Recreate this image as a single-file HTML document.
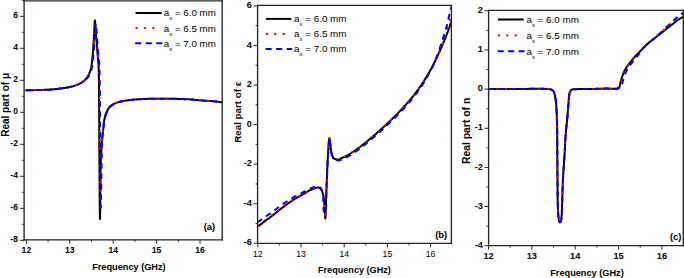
<!DOCTYPE html>
<html><head><meta charset="utf-8"><style>
html,body{margin:0;padding:0;background:#fff;}
body{width:684px;height:278px;overflow:hidden;}
svg{display:block;font-family:"Liberation Sans", sans-serif;}
</style></head><body>
<svg width="684" height="278" viewBox="0 0 684 278">
<rect width="684" height="278" fill="#fff"/>
<clipPath id="clip0"><rect x="24.10" y="0.85" width="198.10" height="238.95"/></clipPath>
<g clip-path="url(#clip0)" fill="none" stroke-linejoin="round">
<path d="M26.20 90.30 L27.36 90.28 L28.53 90.25 L29.70 90.23 L30.88 90.21 L32.06 90.18 L33.24 90.16 L34.41 90.14 L35.56 90.11 L36.71 90.09 L37.83 90.06 L38.93 90.03 L40.00 90.00 L40.89 89.97 L41.76 89.95 L42.61 89.92 L43.45 89.90 L44.28 89.87 L45.10 89.85 L45.92 89.82 L46.73 89.78 L47.54 89.75 L48.35 89.70 L49.17 89.65 L50.00 89.60 L50.84 89.54 L51.70 89.47 L52.56 89.40 L53.43 89.32 L54.30 89.23 L55.16 89.15 L56.02 89.06 L56.86 88.97 L57.68 88.88 L58.48 88.78 L59.26 88.69 L60.00 88.60 L60.56 88.53 L61.10 88.46 L61.64 88.38 L62.16 88.31 L62.67 88.23 L63.17 88.15 L63.66 88.08 L64.15 88.00 L64.62 87.92 L65.09 87.85 L65.55 87.77 L66.00 87.70 L66.36 87.64 L66.72 87.58 L67.07 87.53 L67.42 87.47 L67.76 87.41 L68.09 87.36 L68.42 87.30 L68.75 87.24 L69.07 87.18 L69.38 87.12 L69.69 87.06 L70.00 87.00 L70.26 86.95 L70.50 86.90 L70.73 86.85 L70.96 86.80 L71.18 86.75 L71.41 86.70 L71.64 86.65 L71.87 86.60 L72.11 86.53 L72.36 86.46 L72.62 86.39 L72.90 86.30 L73.38 86.15 L73.90 85.97 L74.46 85.78 L75.05 85.58 L75.66 85.36 L76.28 85.13 L76.90 84.89 L77.52 84.64 L78.13 84.39 L78.72 84.13 L79.28 83.86 L79.80 83.60 L80.23 83.37 L80.65 83.14 L81.07 82.90 L81.47 82.67 L81.86 82.42 L82.25 82.17 L82.63 81.92 L83.00 81.65 L83.36 81.38 L83.71 81.10 L84.06 80.80 L84.40 80.50 L84.74 80.18 L85.06 79.85 L85.38 79.51 L85.70 79.16 L86.00 78.80 L86.30 78.43 L86.58 78.05 L86.86 77.67 L87.14 77.28 L87.40 76.89 L87.65 76.50 L87.90 76.10 L88.14 75.69 L88.37 75.28 L88.58 74.86 L88.79 74.43 L88.99 73.99 L89.19 73.56 L89.37 73.11 L89.55 72.67 L89.72 72.23 L89.89 71.78 L90.05 71.34 L90.20 70.90 L90.34 70.48 L90.48 70.06 L90.60 69.64 L90.72 69.22 L90.84 68.80 L90.94 68.38 L91.05 67.96 L91.15 67.53 L91.24 67.10 L91.33 66.67 L91.42 66.24 L91.50 65.80 L91.58 65.34 L91.66 64.88 L91.72 64.42 L91.78 63.96 L91.84 63.49 L91.89 63.03 L91.94 62.55 L91.99 62.07 L92.04 61.57 L92.09 61.06 L92.14 60.54 L92.20 60.00 L92.28 59.27 L92.35 58.52 L92.43 57.76 L92.50 56.98 L92.58 56.17 L92.66 55.35 L92.73 54.51 L92.81 53.65 L92.88 52.77 L92.95 51.87 L93.03 50.94 L93.10 50.00 L93.20 48.67 L93.29 47.26 L93.39 45.78 L93.49 44.24 L93.58 42.67 L93.67 41.08 L93.77 39.49 L93.86 37.90 L93.95 36.35 L94.03 34.83 L94.12 33.38 L94.20 32.00 L94.26 30.87 L94.32 29.65 L94.38 28.38 L94.44 27.09 L94.49 25.81 L94.55 24.59 L94.60 23.46 L94.66 22.46 L94.71 21.61 L94.77 20.96 L94.84 20.55 L94.90 20.40 L94.97 20.55 L95.04 20.96 L95.11 21.61 L95.18 22.45 L95.25 23.46 L95.33 24.59 L95.40 25.81 L95.48 27.09 L95.56 28.38 L95.64 29.65 L95.72 30.87 L95.80 32.00 L95.91 33.37 L96.02 34.79 L96.13 36.26 L96.24 37.77 L96.36 39.30 L96.48 40.86 L96.60 42.42 L96.72 43.98 L96.84 45.52 L96.96 47.05 L97.08 48.55 L97.20 50.00 L97.31 51.29 L97.43 52.55 L97.54 53.80 L97.66 55.02 L97.78 56.24 L97.90 57.45 L98.02 58.66 L98.13 59.89 L98.23 61.13 L98.33 62.39 L98.42 63.68 L98.50 65.00 L98.58 66.56 L98.64 68.14 L98.70 69.74 L98.74 71.37 L98.78 73.01 L98.81 74.68 L98.84 76.36 L98.86 78.06 L98.88 79.78 L98.90 81.50 L98.93 83.25 L98.95 85.00 L98.98 86.96 L99.00 88.91 L99.02 90.85 L99.04 92.81 L99.06 94.78 L99.07 96.79 L99.08 98.83 L99.10 100.93 L99.11 103.08 L99.12 105.30 L99.14 107.61 L99.15 110.00 L99.17 113.55 L99.19 117.29 L99.21 121.20 L99.23 125.24 L99.24 129.41 L99.26 133.67 L99.28 138.00 L99.30 142.39 L99.32 146.81 L99.34 151.23 L99.37 155.63 L99.40 160.00 L99.44 165.12 L99.48 170.92 L99.52 177.17 L99.57 183.68 L99.62 190.21 L99.67 196.57 L99.72 202.53 L99.77 207.89 L99.83 212.43 L99.88 215.94 L99.94 218.20 L100.00 219.00 L100.05 218.10 L100.10 215.58 L100.15 211.71 L100.19 206.76 L100.24 200.98 L100.29 194.65 L100.34 188.04 L100.41 181.40 L100.48 175.01 L100.57 169.14 L100.68 164.05 L100.80 160.00 L100.87 158.22 L100.95 156.56 L101.03 155.00 L101.11 153.53 L101.20 152.13 L101.29 150.79 L101.38 149.49 L101.48 148.21 L101.58 146.93 L101.68 145.65 L101.79 144.35 L101.90 143.00 L102.01 141.70 L102.12 140.40 L102.25 139.09 L102.37 137.79 L102.50 136.49 L102.63 135.20 L102.76 133.93 L102.89 132.68 L103.02 131.46 L103.15 130.27 L103.28 129.11 L103.40 128.00 L103.49 127.17 L103.57 126.35 L103.64 125.56 L103.71 124.78 L103.78 124.02 L103.86 123.28 L103.94 122.54 L104.02 121.82 L104.12 121.10 L104.23 120.40 L104.36 119.70 L104.50 119.00 L104.65 118.38 L104.80 117.76 L104.97 117.14 L105.14 116.53 L105.33 115.93 L105.52 115.34 L105.72 114.76 L105.92 114.19 L106.14 113.62 L106.35 113.07 L106.57 112.53 L106.80 112.00 L107.00 111.55 L107.19 111.10 L107.39 110.66 L107.58 110.22 L107.79 109.79 L107.99 109.37 L108.21 108.97 L108.44 108.57 L108.68 108.18 L108.94 107.81 L109.21 107.45 L109.50 107.10 L109.81 106.77 L110.14 106.46 L110.49 106.15 L110.85 105.86 L111.23 105.58 L111.62 105.31 L112.01 105.06 L112.41 104.81 L112.81 104.57 L113.21 104.34 L113.61 104.12 L114.00 103.90 L114.36 103.71 L114.72 103.53 L115.08 103.35 L115.45 103.19 L115.81 103.04 L116.18 102.89 L116.55 102.75 L116.92 102.61 L117.31 102.48 L117.69 102.35 L118.09 102.22 L118.50 102.10 L118.98 101.96 L119.48 101.83 L119.98 101.71 L120.49 101.59 L121.02 101.48 L121.55 101.38 L122.08 101.28 L122.62 101.18 L123.16 101.08 L123.71 100.99 L124.26 100.89 L124.80 100.80 L125.38 100.70 L125.97 100.61 L126.55 100.51 L127.15 100.42 L127.74 100.33 L128.34 100.25 L128.95 100.17 L129.55 100.09 L130.16 100.01 L130.77 99.94 L131.38 99.87 L132.00 99.80 L132.65 99.73 L133.30 99.67 L133.95 99.61 L134.60 99.56 L135.26 99.51 L135.92 99.46 L136.58 99.41 L137.25 99.37 L137.93 99.32 L138.61 99.28 L139.30 99.24 L140.00 99.20 L140.79 99.16 L141.58 99.11 L142.37 99.07 L143.18 99.03 L143.98 99.00 L144.80 98.96 L145.63 98.93 L146.48 98.90 L147.33 98.87 L148.20 98.85 L149.09 98.82 L150.00 98.80 L151.15 98.78 L152.34 98.75 L153.56 98.74 L154.81 98.72 L156.09 98.71 L157.38 98.70 L158.67 98.70 L159.97 98.69 L161.25 98.69 L162.53 98.69 L163.78 98.70 L165.00 98.70 L166.12 98.71 L167.22 98.71 L168.32 98.72 L169.40 98.73 L170.49 98.74 L171.56 98.76 L172.63 98.77 L173.71 98.79 L174.78 98.82 L175.85 98.84 L176.92 98.87 L178.00 98.90 L179.09 98.93 L180.18 98.97 L181.29 99.01 L182.40 99.06 L183.51 99.10 L184.61 99.15 L185.71 99.20 L186.79 99.25 L187.86 99.31 L188.90 99.37 L189.91 99.43 L190.90 99.50 L191.69 99.56 L192.45 99.62 L193.20 99.69 L193.93 99.75 L194.65 99.82 L195.36 99.89 L196.07 99.97 L196.77 100.04 L197.47 100.11 L198.17 100.17 L198.88 100.24 L199.60 100.30 L200.32 100.36 L201.04 100.41 L201.75 100.46 L202.47 100.51 L203.19 100.56 L203.90 100.61 L204.62 100.65 L205.34 100.70 L206.05 100.75 L206.77 100.80 L207.48 100.85 L208.20 100.90 L208.92 100.95 L209.65 101.01 L210.39 101.06 L211.13 101.11 L211.87 101.16 L212.61 101.22 L213.34 101.27 L214.07 101.33 L214.78 101.39 L215.47 101.46 L216.15 101.53 L216.80 101.60 L217.32 101.66 L217.82 101.73 L218.31 101.80 L218.79 101.88 L219.26 101.95 L219.72 102.03 L220.19 102.11 L220.64 102.19 L221.10 102.27 L221.56 102.35 L222.03 102.42 L222.50 102.50" stroke="#000" stroke-width="2"/>
<path d="M26.20 90.30 L27.36 90.28 L28.53 90.25 L29.70 90.23 L30.88 90.21 L32.06 90.18 L33.24 90.16 L34.41 90.14 L35.56 90.11 L36.71 90.09 L37.83 90.06 L38.93 90.03 L40.00 90.00 L40.89 89.97 L41.76 89.95 L42.61 89.92 L43.45 89.90 L44.28 89.87 L45.10 89.85 L45.92 89.82 L46.73 89.78 L47.54 89.75 L48.35 89.70 L49.17 89.65 L50.00 89.60 L50.84 89.54 L51.70 89.47 L52.56 89.40 L53.43 89.32 L54.30 89.23 L55.16 89.15 L56.02 89.06 L56.86 88.97 L57.68 88.88 L58.48 88.78 L59.26 88.69 L60.00 88.60 L60.56 88.53 L61.10 88.46 L61.64 88.38 L62.16 88.31 L62.67 88.23 L63.17 88.15 L63.66 88.08 L64.15 88.00 L64.62 87.92 L65.09 87.85 L65.55 87.77 L66.00 87.70 L66.36 87.64 L66.72 87.58 L67.07 87.53 L67.42 87.47 L67.76 87.41 L68.09 87.36 L68.42 87.30 L68.75 87.24 L69.07 87.18 L69.38 87.12 L69.69 87.06 L70.00 87.00 L70.26 86.95 L70.50 86.90 L70.73 86.85 L70.96 86.80 L71.18 86.75 L71.41 86.70 L71.64 86.65 L71.87 86.60 L72.11 86.53 L72.36 86.46 L72.62 86.39 L72.90 86.30 L73.38 86.15 L73.90 85.97 L74.46 85.78 L75.05 85.58 L75.66 85.36 L76.28 85.13 L76.90 84.89 L77.52 84.64 L78.13 84.39 L78.72 84.13 L79.28 83.86 L79.80 83.60 L80.23 83.37 L80.65 83.14 L81.06 82.90 L81.46 82.66 L81.85 82.42 L82.23 82.17 L82.60 81.91 L82.97 81.65 L83.34 81.37 L83.69 81.09 L84.05 80.80 L84.40 80.50 L84.76 80.18 L85.12 79.85 L85.47 79.51 L85.82 79.16 L86.16 78.80 L86.50 78.43 L86.83 78.06 L87.15 77.68 L87.46 77.29 L87.75 76.90 L88.03 76.50 L88.30 76.10 L88.55 75.70 L88.78 75.28 L89.00 74.86 L89.22 74.43 L89.42 74.00 L89.61 73.56 L89.79 73.12 L89.96 72.67 L90.13 72.23 L90.29 71.78 L90.45 71.34 L90.60 70.90 L90.74 70.48 L90.88 70.06 L91.00 69.64 L91.12 69.22 L91.24 68.80 L91.34 68.38 L91.45 67.96 L91.55 67.53 L91.64 67.10 L91.73 66.67 L91.82 66.24 L91.90 65.80 L91.98 65.34 L92.06 64.88 L92.12 64.42 L92.18 63.96 L92.24 63.49 L92.29 63.03 L92.34 62.55 L92.39 62.07 L92.44 61.57 L92.49 61.06 L92.54 60.54 L92.60 60.00 L92.68 59.27 L92.75 58.52 L92.83 57.76 L92.90 56.98 L92.98 56.17 L93.06 55.35 L93.13 54.51 L93.21 53.65 L93.28 52.77 L93.35 51.87 L93.43 50.94 L93.50 50.00 L93.60 48.66 L93.69 47.22 L93.78 45.70 L93.88 44.12 L93.97 42.51 L94.06 40.88 L94.15 39.26 L94.24 37.66 L94.33 36.12 L94.42 34.64 L94.51 33.26 L94.60 32.00 L94.66 31.17 L94.72 30.30 L94.77 29.40 L94.83 28.50 L94.88 27.63 L94.94 26.80 L95.00 26.04 L95.05 25.36 L95.11 24.80 L95.17 24.37 L95.23 24.10 L95.30 24.00 L95.37 24.10 L95.44 24.37 L95.51 24.80 L95.58 25.36 L95.66 26.03 L95.74 26.80 L95.81 27.63 L95.89 28.50 L95.97 29.40 L96.05 30.29 L96.12 31.17 L96.20 32.00 L96.31 33.25 L96.43 34.60 L96.55 36.03 L96.66 37.53 L96.78 39.07 L96.89 40.65 L97.01 42.25 L97.13 43.85 L97.25 45.45 L97.36 47.01 L97.48 48.53 L97.60 50.00 L97.71 51.29 L97.83 52.55 L97.94 53.80 L98.06 55.02 L98.18 56.24 L98.30 57.45 L98.42 58.66 L98.53 59.89 L98.63 61.13 L98.73 62.39 L98.82 63.68 L98.90 65.00 L98.98 66.56 L99.04 68.14 L99.10 69.74 L99.14 71.37 L99.18 73.01 L99.21 74.68 L99.24 76.36 L99.26 78.06 L99.28 79.78 L99.30 81.50 L99.33 83.25 L99.35 85.00 L99.38 86.96 L99.40 88.91 L99.42 90.85 L99.44 92.81 L99.46 94.78 L99.47 96.79 L99.48 98.83 L99.50 100.93 L99.51 103.08 L99.52 105.30 L99.54 107.61 L99.55 110.00 L99.57 113.56 L99.59 117.33 L99.61 121.28 L99.62 125.37 L99.64 129.58 L99.66 133.88 L99.67 138.25 L99.69 142.65 L99.71 147.05 L99.74 151.43 L99.77 155.75 L99.80 160.00 L99.84 164.59 L99.88 169.72 L99.92 175.21 L99.97 180.89 L100.02 186.57 L100.07 192.08 L100.12 197.23 L100.17 201.86 L100.23 205.76 L100.28 208.77 L100.34 210.71 L100.40 211.40 L100.46 210.63 L100.52 208.46 L100.57 205.13 L100.63 200.85 L100.69 195.87 L100.75 190.39 L100.82 184.66 L100.89 178.89 L100.96 173.31 L101.03 168.15 L101.11 163.64 L101.20 160.00 L101.25 158.26 L101.30 156.62 L101.34 155.08 L101.39 153.61 L101.43 152.21 L101.48 150.86 L101.53 149.54 L101.59 148.25 L101.66 146.96 L101.73 145.66 L101.81 144.35 L101.90 143.00 L102.00 141.70 L102.10 140.40 L102.22 139.09 L102.34 137.79 L102.47 136.49 L102.60 135.20 L102.74 133.93 L102.88 132.68 L103.01 131.46 L103.15 130.27 L103.28 129.11 L103.40 128.00 L103.49 127.17 L103.57 126.35 L103.64 125.56 L103.71 124.78 L103.78 124.02 L103.86 123.28 L103.94 122.54 L104.02 121.82 L104.12 121.10 L104.23 120.40 L104.36 119.70 L104.50 119.00 L104.65 118.38 L104.80 117.76 L104.97 117.14 L105.14 116.53 L105.33 115.93 L105.52 115.34 L105.72 114.76 L105.92 114.19 L106.14 113.62 L106.35 113.07 L106.57 112.53 L106.80 112.00 L107.00 111.55 L107.19 111.10 L107.39 110.66 L107.58 110.22 L107.79 109.79 L107.99 109.37 L108.21 108.97 L108.44 108.57 L108.68 108.18 L108.94 107.81 L109.21 107.45 L109.50 107.10 L109.81 106.77 L110.14 106.46 L110.49 106.15 L110.85 105.86 L111.23 105.58 L111.62 105.31 L112.01 105.06 L112.41 104.81 L112.81 104.57 L113.21 104.34 L113.61 104.12 L114.00 103.90 L114.36 103.71 L114.72 103.53 L115.08 103.35 L115.45 103.19 L115.81 103.04 L116.18 102.89 L116.55 102.75 L116.92 102.61 L117.31 102.48 L117.69 102.35 L118.09 102.22 L118.50 102.10 L118.98 101.96 L119.48 101.83 L119.98 101.71 L120.49 101.59 L121.02 101.48 L121.55 101.38 L122.08 101.28 L122.62 101.18 L123.16 101.08 L123.71 100.99 L124.26 100.89 L124.80 100.80 L125.38 100.70 L125.97 100.61 L126.55 100.51 L127.15 100.42 L127.74 100.33 L128.34 100.25 L128.95 100.17 L129.55 100.09 L130.16 100.01 L130.77 99.94 L131.38 99.87 L132.00 99.80 L132.65 99.73 L133.30 99.67 L133.95 99.61 L134.60 99.56 L135.26 99.51 L135.92 99.46 L136.58 99.41 L137.25 99.37 L137.93 99.32 L138.61 99.28 L139.30 99.24 L140.00 99.20 L140.79 99.16 L141.58 99.11 L142.37 99.07 L143.18 99.03 L143.98 99.00 L144.80 98.96 L145.63 98.93 L146.48 98.90 L147.33 98.87 L148.20 98.85 L149.09 98.82 L150.00 98.80 L151.15 98.78 L152.34 98.75 L153.56 98.74 L154.81 98.72 L156.09 98.71 L157.38 98.70 L158.67 98.70 L159.97 98.69 L161.25 98.69 L162.53 98.69 L163.78 98.70 L165.00 98.70 L166.12 98.71 L167.22 98.71 L168.32 98.72 L169.40 98.73 L170.49 98.74 L171.56 98.76 L172.63 98.77 L173.71 98.79 L174.78 98.82 L175.85 98.84 L176.92 98.87 L178.00 98.90 L179.09 98.93 L180.18 98.97 L181.29 99.01 L182.40 99.06 L183.51 99.10 L184.61 99.15 L185.71 99.20 L186.79 99.25 L187.86 99.31 L188.90 99.37 L189.91 99.43 L190.90 99.50 L191.69 99.56 L192.45 99.62 L193.20 99.69 L193.93 99.75 L194.65 99.82 L195.36 99.89 L196.07 99.97 L196.77 100.04 L197.47 100.11 L198.17 100.17 L198.88 100.24 L199.60 100.30 L200.32 100.36 L201.04 100.41 L201.75 100.46 L202.47 100.51 L203.19 100.56 L203.90 100.61 L204.62 100.65 L205.34 100.70 L206.05 100.75 L206.77 100.80 L207.48 100.85 L208.20 100.90 L208.92 100.95 L209.65 101.01 L210.39 101.06 L211.13 101.11 L211.87 101.16 L212.61 101.22 L213.34 101.27 L214.07 101.33 L214.78 101.39 L215.47 101.46 L216.15 101.53 L216.80 101.60 L217.32 101.66 L217.82 101.73 L218.31 101.80 L218.79 101.88 L219.26 101.95 L219.72 102.03 L220.19 102.11 L220.64 102.19 L221.10 102.27 L221.56 102.35 L222.03 102.42 L222.50 102.50" stroke="#f00" stroke-width="2.3" stroke-dasharray="0 8.4" stroke-linecap="round"/>
<path d="M26.20 90.30 L27.36 90.28 L28.53 90.25 L29.70 90.23 L30.88 90.21 L32.06 90.18 L33.24 90.16 L34.41 90.14 L35.56 90.11 L36.71 90.09 L37.83 90.06 L38.93 90.03 L40.00 90.00 L40.89 89.97 L41.76 89.95 L42.61 89.92 L43.45 89.90 L44.28 89.87 L45.10 89.85 L45.92 89.82 L46.73 89.78 L47.54 89.75 L48.35 89.70 L49.17 89.65 L50.00 89.60 L50.84 89.54 L51.70 89.47 L52.56 89.40 L53.43 89.32 L54.30 89.23 L55.16 89.15 L56.02 89.06 L56.86 88.97 L57.68 88.88 L58.48 88.78 L59.26 88.69 L60.00 88.60 L60.56 88.53 L61.10 88.46 L61.64 88.38 L62.16 88.31 L62.67 88.23 L63.17 88.15 L63.66 88.08 L64.15 88.00 L64.62 87.92 L65.09 87.85 L65.55 87.77 L66.00 87.70 L66.36 87.64 L66.72 87.58 L67.07 87.53 L67.42 87.47 L67.76 87.41 L68.09 87.36 L68.42 87.30 L68.75 87.24 L69.07 87.18 L69.38 87.12 L69.69 87.06 L70.00 87.00 L70.26 86.95 L70.50 86.90 L70.73 86.85 L70.96 86.80 L71.18 86.75 L71.41 86.70 L71.64 86.65 L71.87 86.60 L72.11 86.53 L72.36 86.46 L72.62 86.39 L72.90 86.30 L73.38 86.15 L73.90 85.97 L74.46 85.78 L75.05 85.58 L75.66 85.36 L76.28 85.13 L76.90 84.89 L77.52 84.64 L78.13 84.39 L78.72 84.13 L79.28 83.86 L79.80 83.60 L80.23 83.37 L80.65 83.14 L81.05 82.90 L81.45 82.66 L81.83 82.41 L82.21 82.16 L82.58 81.90 L82.95 81.64 L83.32 81.37 L83.68 81.09 L84.04 80.80 L84.40 80.50 L84.78 80.18 L85.17 79.85 L85.56 79.51 L85.95 79.16 L86.33 78.80 L86.71 78.44 L87.07 78.07 L87.43 77.69 L87.77 77.30 L88.10 76.91 L88.41 76.51 L88.70 76.10 L88.96 75.70 L89.20 75.29 L89.42 74.87 L89.64 74.44 L89.83 74.01 L90.02 73.57 L90.20 73.12 L90.37 72.68 L90.54 72.23 L90.69 71.78 L90.85 71.34 L91.00 70.90 L91.14 70.48 L91.28 70.06 L91.40 69.64 L91.52 69.22 L91.64 68.80 L91.74 68.38 L91.85 67.96 L91.95 67.53 L92.04 67.10 L92.13 66.67 L92.22 66.24 L92.30 65.80 L92.38 65.34 L92.46 64.88 L92.52 64.42 L92.58 63.96 L92.64 63.49 L92.69 63.03 L92.74 62.55 L92.79 62.07 L92.84 61.57 L92.89 61.06 L92.94 60.54 L93.00 60.00 L93.08 59.27 L93.15 58.52 L93.23 57.76 L93.30 56.98 L93.38 56.17 L93.46 55.35 L93.53 54.51 L93.61 53.65 L93.68 52.77 L93.75 51.87 L93.83 50.94 L93.90 50.00 L94.00 48.66 L94.09 47.23 L94.19 45.71 L94.28 44.13 L94.37 42.52 L94.46 40.90 L94.55 39.28 L94.64 37.68 L94.73 36.14 L94.82 34.66 L94.91 33.28 L95.00 32.00 L95.06 31.14 L95.12 30.24 L95.17 29.31 L95.23 28.38 L95.28 27.48 L95.34 26.61 L95.40 25.82 L95.45 25.12 L95.51 24.53 L95.57 24.09 L95.63 23.80 L95.70 23.70 L95.77 23.80 L95.84 24.08 L95.91 24.53 L95.98 25.12 L96.06 25.82 L96.13 26.61 L96.21 27.47 L96.29 28.38 L96.37 29.31 L96.45 30.24 L96.52 31.14 L96.60 32.00 L96.71 33.26 L96.83 34.62 L96.94 36.05 L97.06 37.55 L97.18 39.09 L97.29 40.67 L97.41 42.27 L97.53 43.87 L97.65 45.45 L97.76 47.02 L97.88 48.54 L98.00 50.00 L98.11 51.29 L98.23 52.55 L98.34 53.80 L98.46 55.02 L98.58 56.24 L98.70 57.45 L98.82 58.66 L98.93 59.89 L99.03 61.13 L99.13 62.39 L99.22 63.68 L99.30 65.00 L99.38 66.56 L99.44 68.14 L99.50 69.74 L99.54 71.37 L99.58 73.01 L99.61 74.68 L99.64 76.36 L99.66 78.06 L99.68 79.78 L99.70 81.50 L99.73 83.25 L99.75 85.00 L99.78 86.96 L99.80 88.91 L99.82 90.85 L99.84 92.81 L99.86 94.78 L99.87 96.79 L99.88 98.83 L99.90 100.93 L99.91 103.08 L99.92 105.30 L99.94 107.61 L99.95 110.00 L99.97 113.57 L99.99 117.35 L100.01 121.32 L100.02 125.44 L100.04 129.68 L100.05 134.00 L100.07 138.39 L100.09 142.79 L100.11 147.18 L100.14 151.54 L100.17 155.82 L100.20 160.00 L100.24 164.31 L100.28 169.10 L100.32 174.21 L100.37 179.48 L100.41 184.74 L100.47 189.82 L100.52 194.57 L100.57 198.83 L100.63 202.42 L100.68 205.19 L100.74 206.97 L100.80 207.60 L100.86 206.89 L100.93 204.90 L100.99 201.83 L101.07 197.90 L101.14 193.30 L101.21 188.25 L101.28 182.95 L101.35 177.62 L101.42 172.45 L101.49 167.65 L101.55 163.43 L101.60 160.00 L101.63 158.28 L101.64 156.66 L101.65 155.12 L101.66 153.66 L101.67 152.25 L101.68 150.90 L101.69 149.57 L101.71 148.27 L101.73 146.97 L101.77 145.67 L101.83 144.35 L101.90 143.00 L101.98 141.70 L102.08 140.40 L102.19 139.09 L102.32 137.79 L102.45 136.49 L102.58 135.20 L102.72 133.93 L102.86 132.68 L103.00 131.46 L103.14 130.27 L103.27 129.11 L103.40 128.00 L103.49 127.17 L103.57 126.35 L103.64 125.56 L103.71 124.78 L103.78 124.02 L103.86 123.28 L103.94 122.54 L104.02 121.82 L104.12 121.10 L104.23 120.40 L104.36 119.70 L104.50 119.00 L104.65 118.38 L104.80 117.76 L104.97 117.14 L105.14 116.53 L105.33 115.93 L105.52 115.34 L105.72 114.76 L105.92 114.19 L106.14 113.62 L106.35 113.07 L106.57 112.53 L106.80 112.00 L107.00 111.55 L107.19 111.10 L107.39 110.66 L107.58 110.22 L107.79 109.79 L107.99 109.37 L108.21 108.97 L108.44 108.57 L108.68 108.18 L108.94 107.81 L109.21 107.45 L109.50 107.10 L109.81 106.77 L110.14 106.46 L110.49 106.15 L110.85 105.86 L111.23 105.58 L111.62 105.31 L112.01 105.06 L112.41 104.81 L112.81 104.57 L113.21 104.34 L113.61 104.12 L114.00 103.90 L114.36 103.71 L114.72 103.53 L115.08 103.35 L115.45 103.19 L115.81 103.04 L116.18 102.89 L116.55 102.75 L116.92 102.61 L117.31 102.48 L117.69 102.35 L118.09 102.22 L118.50 102.10 L118.98 101.96 L119.48 101.83 L119.98 101.71 L120.49 101.59 L121.02 101.48 L121.55 101.38 L122.08 101.28 L122.62 101.18 L123.16 101.08 L123.71 100.99 L124.26 100.89 L124.80 100.80 L125.38 100.70 L125.97 100.61 L126.55 100.51 L127.15 100.42 L127.74 100.33 L128.34 100.25 L128.95 100.17 L129.55 100.09 L130.16 100.01 L130.77 99.94 L131.38 99.87 L132.00 99.80 L132.65 99.73 L133.30 99.67 L133.95 99.61 L134.60 99.56 L135.26 99.51 L135.92 99.46 L136.58 99.41 L137.25 99.37 L137.93 99.32 L138.61 99.28 L139.30 99.24 L140.00 99.20 L140.79 99.16 L141.58 99.11 L142.37 99.07 L143.18 99.03 L143.98 99.00 L144.80 98.96 L145.63 98.93 L146.48 98.90 L147.33 98.87 L148.20 98.85 L149.09 98.82 L150.00 98.80 L151.15 98.78 L152.34 98.75 L153.56 98.74 L154.81 98.72 L156.09 98.71 L157.38 98.70 L158.67 98.70 L159.97 98.69 L161.25 98.69 L162.53 98.69 L163.78 98.70 L165.00 98.70 L166.12 98.71 L167.22 98.71 L168.32 98.72 L169.40 98.73 L170.49 98.74 L171.56 98.76 L172.63 98.77 L173.71 98.79 L174.78 98.82 L175.85 98.84 L176.92 98.87 L178.00 98.90 L179.09 98.93 L180.18 98.97 L181.29 99.01 L182.40 99.06 L183.51 99.10 L184.61 99.15 L185.71 99.20 L186.79 99.25 L187.86 99.31 L188.90 99.37 L189.91 99.43 L190.90 99.50 L191.69 99.56 L192.45 99.62 L193.20 99.69 L193.93 99.75 L194.65 99.82 L195.36 99.89 L196.07 99.97 L196.77 100.04 L197.47 100.11 L198.17 100.17 L198.88 100.24 L199.60 100.30 L200.32 100.36 L201.04 100.41 L201.75 100.46 L202.47 100.51 L203.19 100.56 L203.90 100.61 L204.62 100.65 L205.34 100.70 L206.05 100.75 L206.77 100.80 L207.48 100.85 L208.20 100.90 L208.92 100.95 L209.65 101.01 L210.39 101.06 L211.13 101.11 L211.87 101.16 L212.61 101.22 L213.34 101.27 L214.07 101.33 L214.78 101.39 L215.47 101.46 L216.15 101.53 L216.80 101.60 L217.32 101.66 L217.82 101.73 L218.31 101.80 L218.79 101.88 L219.26 101.95 L219.72 102.03 L220.19 102.11 L220.64 102.19 L221.10 102.27 L221.56 102.35 L222.03 102.42 L222.50 102.50" stroke="#00f" stroke-width="2" stroke-dasharray="4 6.4" stroke-linecap="round"/>
</g>
<line x1="23.50" y1="0.85" x2="222.80" y2="0.85" stroke="#262626" stroke-width="1.35"/>
<line x1="222.20" y1="0.25" x2="222.20" y2="240.40" stroke="#262626" stroke-width="1.35"/>
<line x1="23.50" y1="239.80" x2="222.80" y2="239.80" stroke="#262626" stroke-width="1.35"/>
<line x1="24.10" y1="0.25" x2="24.10" y2="240.40" stroke="#262626" stroke-width="1.35"/>
<line x1="20.10" y1="240.30" x2="24.10" y2="240.30" stroke="#262626" stroke-width="1.00"/>
<text x="18.00" y="242.30" font-size="8.60" font-weight="bold" text-anchor="end">-8</text>
<line x1="20.10" y1="208.30" x2="24.10" y2="208.30" stroke="#262626" stroke-width="1.00"/>
<text x="18.00" y="210.30" font-size="8.60" font-weight="bold" text-anchor="end">-6</text>
<line x1="20.10" y1="176.30" x2="24.10" y2="176.30" stroke="#262626" stroke-width="1.00"/>
<text x="18.00" y="178.30" font-size="8.60" font-weight="bold" text-anchor="end">-4</text>
<line x1="20.10" y1="144.30" x2="24.10" y2="144.30" stroke="#262626" stroke-width="1.00"/>
<text x="18.00" y="146.30" font-size="8.60" font-weight="bold" text-anchor="end">-2</text>
<line x1="20.10" y1="112.30" x2="24.10" y2="112.30" stroke="#262626" stroke-width="1.00"/>
<text x="18.00" y="114.30" font-size="8.60" font-weight="bold" text-anchor="end">0</text>
<line x1="20.10" y1="80.30" x2="24.10" y2="80.30" stroke="#262626" stroke-width="1.00"/>
<text x="18.00" y="82.30" font-size="8.60" font-weight="bold" text-anchor="end">2</text>
<line x1="20.10" y1="48.30" x2="24.10" y2="48.30" stroke="#262626" stroke-width="1.00"/>
<text x="18.00" y="50.30" font-size="8.60" font-weight="bold" text-anchor="end">4</text>
<line x1="20.10" y1="16.30" x2="24.10" y2="16.30" stroke="#262626" stroke-width="1.00"/>
<text x="18.00" y="18.30" font-size="8.60" font-weight="bold" text-anchor="end">6</text>
<line x1="22.10" y1="224.30" x2="24.10" y2="224.30" stroke="#262626" stroke-width="1.00"/>
<line x1="22.10" y1="192.30" x2="24.10" y2="192.30" stroke="#262626" stroke-width="1.00"/>
<line x1="22.10" y1="160.30" x2="24.10" y2="160.30" stroke="#262626" stroke-width="1.00"/>
<line x1="22.10" y1="128.30" x2="24.10" y2="128.30" stroke="#262626" stroke-width="1.00"/>
<line x1="22.10" y1="96.30" x2="24.10" y2="96.30" stroke="#262626" stroke-width="1.00"/>
<line x1="22.10" y1="64.30" x2="24.10" y2="64.30" stroke="#262626" stroke-width="1.00"/>
<line x1="22.10" y1="32.30" x2="24.10" y2="32.30" stroke="#262626" stroke-width="1.00"/>
<line x1="22.10" y1="0.30" x2="24.10" y2="0.30" stroke="#262626" stroke-width="1.00"/>
<line x1="26.40" y1="239.80" x2="26.40" y2="243.80" stroke="#262626" stroke-width="1.00"/>
<text x="26.40" y="252.80" font-size="8.60" font-weight="bold" text-anchor="middle">12</text>
<line x1="69.80" y1="239.80" x2="69.80" y2="243.80" stroke="#262626" stroke-width="1.00"/>
<text x="69.80" y="252.80" font-size="8.60" font-weight="bold" text-anchor="middle">13</text>
<line x1="113.20" y1="239.80" x2="113.20" y2="243.80" stroke="#262626" stroke-width="1.00"/>
<text x="113.20" y="252.80" font-size="8.60" font-weight="bold" text-anchor="middle">14</text>
<line x1="156.60" y1="239.80" x2="156.60" y2="243.80" stroke="#262626" stroke-width="1.00"/>
<text x="156.60" y="252.80" font-size="8.60" font-weight="bold" text-anchor="middle">15</text>
<line x1="200.00" y1="239.80" x2="200.00" y2="243.80" stroke="#262626" stroke-width="1.00"/>
<text x="200.00" y="252.80" font-size="8.60" font-weight="bold" text-anchor="middle">16</text>
<line x1="48.10" y1="239.80" x2="48.10" y2="241.80" stroke="#262626" stroke-width="1.00"/>
<line x1="91.50" y1="239.80" x2="91.50" y2="241.80" stroke="#262626" stroke-width="1.00"/>
<line x1="134.90" y1="239.80" x2="134.90" y2="241.80" stroke="#262626" stroke-width="1.00"/>
<line x1="178.30" y1="239.80" x2="178.30" y2="241.80" stroke="#262626" stroke-width="1.00"/>
<line x1="135.50" y1="13.00" x2="161.80" y2="13.00" stroke="#000" stroke-width="2"/>
<line x1="136.50" y1="28.10" x2="154.50" y2="28.10" stroke="#f00" stroke-width="2.4" stroke-dasharray="0 8.4" stroke-linecap="round"/>
<line x1="136.00" y1="43.20" x2="161.80" y2="43.20" stroke="#00f" stroke-width="2" stroke-dasharray="4.5 6" stroke-linecap="round"/>
<text x="163.80" y="16.40" font-size="9.75">a<tspan font-size="6" dy="4">x</tspan><tspan dy="-4"> = 6.0 mm</tspan></text>
<text x="163.80" y="31.50" font-size="9.75">a<tspan font-size="6" dy="4">x</tspan><tspan dy="-4"> = 6.5 mm</tspan></text>
<text x="163.80" y="46.60" font-size="9.75">a<tspan font-size="6" dy="4">x</tspan><tspan dy="-4"> = 7.0 mm</tspan></text>
<text x="128.90" y="269.90" font-size="9.20" font-weight="bold" text-anchor="middle">Frequency (GHz)</text>
<text x="8.60" y="104.90" font-size="10.00" font-weight="bold" text-anchor="middle" transform="rotate(-90 8.60 104.90)">Real part of μ</text>
<text x="215.20" y="229.50" font-size="9.40" font-weight="bold" text-anchor="end">(a)</text>
<clipPath id="clip57"><rect x="257.60" y="5.40" width="193.80" height="237.90"/></clipPath>
<g clip-path="url(#clip57)" fill="none" stroke-linejoin="round">
<path d="M258.10 226.40 L258.68 225.95 L259.27 225.50 L259.85 225.04 L260.44 224.59 L261.03 224.13 L261.61 223.68 L262.20 223.22 L262.78 222.77 L263.36 222.32 L263.95 221.88 L264.52 221.44 L265.10 221.00 L265.65 220.59 L266.19 220.19 L266.73 219.79 L267.27 219.40 L267.80 219.01 L268.34 218.62 L268.88 218.23 L269.41 217.84 L269.95 217.44 L270.50 217.03 L271.05 216.62 L271.60 216.20 L272.21 215.73 L272.83 215.24 L273.45 214.75 L274.07 214.24 L274.70 213.73 L275.33 213.22 L275.97 212.71 L276.60 212.20 L277.23 211.69 L277.86 211.18 L278.48 210.69 L279.10 210.20 L279.69 209.74 L280.27 209.29 L280.85 208.84 L281.43 208.40 L282.01 207.95 L282.58 207.51 L283.16 207.08 L283.74 206.64 L284.32 206.20 L284.91 205.77 L285.50 205.33 L286.10 204.90 L286.72 204.45 L287.35 204.00 L287.97 203.55 L288.60 203.11 L289.23 202.66 L289.87 202.21 L290.51 201.77 L291.16 201.33 L291.81 200.89 L292.47 200.46 L293.13 200.03 L293.80 199.60 L294.51 199.16 L295.24 198.72 L295.98 198.28 L296.73 197.85 L297.49 197.43 L298.25 197.00 L299.00 196.58 L299.76 196.16 L300.51 195.74 L301.25 195.33 L301.98 194.91 L302.70 194.50 L303.35 194.12 L304.01 193.72 L304.66 193.33 L305.31 192.93 L305.96 192.53 L306.60 192.14 L307.23 191.76 L307.85 191.39 L308.46 191.03 L309.06 190.70 L309.64 190.39 L310.20 190.10 L310.61 189.90 L311.01 189.72 L311.41 189.54 L311.79 189.37 L312.18 189.21 L312.55 189.06 L312.92 188.92 L313.29 188.79 L313.64 188.66 L314.00 188.53 L314.35 188.41 L314.70 188.30 L314.98 188.20 L315.27 188.11 L315.55 188.01 L315.82 187.91 L316.09 187.81 L316.36 187.73 L316.63 187.65 L316.89 187.59 L317.15 187.53 L317.40 187.50 L317.65 187.49 L317.90 187.50 L318.12 187.53 L318.33 187.56 L318.54 187.61 L318.75 187.67 L318.96 187.75 L319.16 187.83 L319.36 187.93 L319.56 188.04 L319.75 188.16 L319.94 188.29 L320.12 188.44 L320.30 188.60 L320.54 188.84 L320.77 189.12 L321.00 189.42 L321.22 189.75 L321.43 190.10 L321.63 190.48 L321.83 190.87 L322.02 191.27 L322.20 191.69 L322.38 192.12 L322.54 192.56 L322.70 193.00 L322.89 193.60 L323.07 194.23 L323.22 194.88 L323.36 195.55 L323.49 196.25 L323.61 196.96 L323.71 197.70 L323.81 198.46 L323.91 199.24 L324.01 200.04 L324.10 200.86 L324.20 201.70 L324.33 203.01 L324.45 204.57 L324.56 206.30 L324.66 208.13 L324.75 210.01 L324.84 211.85 L324.92 213.60 L324.99 215.19 L325.07 216.53 L325.14 217.58 L325.22 218.26 L325.30 218.50 L325.40 218.15 L325.49 217.18 L325.58 215.67 L325.67 213.72 L325.76 211.43 L325.84 208.89 L325.92 206.20 L326.00 203.45 L326.08 200.75 L326.15 198.17 L326.23 195.82 L326.30 193.80 L326.36 192.37 L326.41 191.00 L326.46 189.67 L326.50 188.38 L326.55 187.12 L326.59 185.86 L326.64 184.61 L326.69 183.36 L326.73 182.08 L326.79 180.76 L326.84 179.41 L326.90 178.00 L326.98 176.22 L327.05 174.37 L327.13 172.47 L327.21 170.52 L327.30 168.53 L327.39 166.54 L327.48 164.54 L327.57 162.55 L327.67 160.59 L327.78 158.67 L327.89 156.80 L328.00 155.00 L328.10 153.41 L328.21 151.68 L328.31 149.85 L328.42 148.00 L328.54 146.16 L328.65 144.40 L328.77 142.76 L328.90 141.30 L329.02 140.07 L329.14 139.12 L329.27 138.52 L329.40 138.30 L329.49 138.42 L329.59 138.75 L329.69 139.27 L329.78 139.94 L329.88 140.74 L329.98 141.62 L330.08 142.56 L330.18 143.52 L330.29 144.48 L330.39 145.40 L330.49 146.25 L330.60 147.00 L330.69 147.62 L330.78 148.24 L330.87 148.86 L330.96 149.47 L331.05 150.09 L331.15 150.69 L331.24 151.28 L331.34 151.86 L331.44 152.43 L331.56 152.97 L331.67 153.50 L331.80 154.00 L331.90 154.37 L331.99 154.73 L332.08 155.09 L332.18 155.45 L332.27 155.79 L332.38 156.12 L332.48 156.44 L332.60 156.75 L332.73 157.04 L332.87 157.31 L333.03 157.57 L333.20 157.80 L333.35 157.97 L333.52 158.13 L333.69 158.28 L333.87 158.42 L334.06 158.54 L334.25 158.66 L334.45 158.76 L334.66 158.86 L334.86 158.96 L335.07 159.04 L335.29 159.12 L335.50 159.20 L335.73 159.28 L335.97 159.35 L336.21 159.42 L336.45 159.48 L336.70 159.54 L336.96 159.58 L337.21 159.62 L337.47 159.64 L337.73 159.65 L337.99 159.65 L338.25 159.63 L338.50 159.60 L338.79 159.54 L339.07 159.45 L339.36 159.34 L339.65 159.21 L339.94 159.06 L340.23 158.91 L340.52 158.74 L340.81 158.57 L341.11 158.40 L341.40 158.23 L341.70 158.07 L342.00 157.92 L342.32 157.77 L342.65 157.61 L342.98 157.46 L343.32 157.31 L343.65 157.16 L343.99 157.01 L344.32 156.85 L344.66 156.70 L345.00 156.54 L345.33 156.38 L345.67 156.21 L346.00 156.05 L346.34 155.87 L346.67 155.69 L347.01 155.51 L347.34 155.33 L347.68 155.15 L348.01 154.96 L348.34 154.77 L348.67 154.58 L349.01 154.39 L349.34 154.19 L349.67 154.00 L350.00 153.80 L350.34 153.60 L350.67 153.39 L351.01 153.18 L351.34 152.97 L351.67 152.76 L352.01 152.55 L352.34 152.34 L352.67 152.12 L353.01 151.90 L353.34 151.68 L353.67 151.46 L354.00 151.24 L354.34 151.01 L354.67 150.79 L355.01 150.56 L355.34 150.33 L355.67 150.09 L356.01 149.86 L356.34 149.62 L356.67 149.39 L357.00 149.15 L357.34 148.91 L357.67 148.67 L358.00 148.43 L358.34 148.19 L358.67 147.94 L359.00 147.69 L359.34 147.44 L359.67 147.19 L360.01 146.94 L360.34 146.69 L360.67 146.44 L361.00 146.18 L361.34 145.93 L361.67 145.67 L362.00 145.41 L362.33 145.16 L362.67 144.89 L363.00 144.63 L363.34 144.37 L363.67 144.10 L364.00 143.84 L364.34 143.57 L364.67 143.31 L365.00 143.04 L365.34 142.77 L365.67 142.50 L366.00 142.24 L366.33 141.96 L366.67 141.69 L367.00 141.42 L367.34 141.14 L367.67 140.87 L368.00 140.59 L368.34 140.32 L368.67 140.04 L369.00 139.76 L369.34 139.48 L369.67 139.20 L370.00 138.92 L370.33 138.64 L370.67 138.36 L371.00 138.08 L371.34 137.79 L371.67 137.51 L372.00 137.22 L372.34 136.94 L372.67 136.65 L373.00 136.37 L373.33 136.08 L373.67 135.79 L374.00 135.51 L374.33 135.22 L374.67 134.93 L375.00 134.63 L375.34 134.34 L375.67 134.05 L376.00 133.76 L376.34 133.47 L376.67 133.17 L377.00 132.88 L377.33 132.59 L377.67 132.29 L378.00 132.00 L378.33 131.70 L378.67 131.40 L379.00 131.10 L379.34 130.81 L379.67 130.51 L380.00 130.21 L380.34 129.91 L380.67 129.61 L381.00 129.31 L381.33 129.01 L381.67 128.71 L382.00 128.40 L382.33 128.10 L382.67 127.80 L383.00 127.49 L383.34 127.19 L383.67 126.88 L384.00 126.57 L384.34 126.27 L384.67 125.96 L385.00 125.65 L385.33 125.35 L385.67 125.04 L386.00 124.73 L386.33 124.42 L386.67 124.11 L387.00 123.79 L387.34 123.48 L387.67 123.17 L388.00 122.86 L388.34 122.54 L388.67 122.23 L389.00 121.91 L389.34 121.60 L389.67 121.28 L390.00 120.96 L390.33 120.65 L390.67 120.33 L391.00 120.00 L391.34 119.68 L391.67 119.36 L392.00 119.04 L392.34 118.72 L392.67 118.39 L393.00 118.07 L393.34 117.75 L393.67 117.42 L394.00 117.09 L394.33 116.76 L394.67 116.43 L395.00 116.10 L395.34 115.77 L395.67 115.44 L396.00 115.11 L396.34 114.77 L396.67 114.44 L397.00 114.10 L397.34 113.77 L397.67 113.43 L398.00 113.09 L398.33 112.75 L398.67 112.41 L399.00 112.06 L399.34 111.72 L399.67 111.37 L400.01 111.03 L400.34 110.68 L400.67 110.33 L401.00 109.98 L401.34 109.63 L401.67 109.28 L402.00 108.93 L402.34 108.57 L402.67 108.21 L403.01 107.85 L403.34 107.49 L403.67 107.13 L404.01 106.77 L404.34 106.40 L404.67 106.04 L405.01 105.67 L405.34 105.31 L405.67 104.94 L406.00 104.57 L406.34 104.19 L406.67 103.81 L407.01 103.43 L407.34 103.05 L407.67 102.67 L408.01 102.28 L408.34 101.90 L408.67 101.51 L409.01 101.12 L409.34 100.74 L409.67 100.34 L410.00 99.95 L410.34 99.55 L410.67 99.15 L411.01 98.74 L411.34 98.34 L411.68 97.93 L412.01 97.52 L412.34 97.11 L412.68 96.70 L413.01 96.28 L413.34 95.87 L413.67 95.45 L414.00 95.03 L414.34 94.60 L414.67 94.17 L415.01 93.73 L415.34 93.30 L415.68 92.86 L416.01 92.42 L416.35 91.98 L416.68 91.54 L417.01 91.09 L417.34 90.64 L417.67 90.19 L418.00 89.74 L418.34 89.28 L418.67 88.81 L419.01 88.34 L419.35 87.87 L419.68 87.39 L420.01 86.91 L420.35 86.44 L420.68 85.96 L421.01 85.47 L421.34 84.99 L421.67 84.50 L422.00 84.01 L422.34 83.50 L422.68 82.99 L423.01 82.48 L423.35 81.96 L423.68 81.45 L424.02 80.93 L424.35 80.40 L424.68 79.88 L425.01 79.35 L425.34 78.82 L425.67 78.29 L426.00 77.75 L426.34 77.20 L426.68 76.64 L427.01 76.07 L427.35 75.51 L427.68 74.94 L428.02 74.37 L428.35 73.80 L428.68 73.22 L429.01 72.64 L429.34 72.06 L429.67 71.48 L430.00 70.89 L430.34 70.27 L430.68 69.66 L431.01 69.04 L431.35 68.41 L431.69 67.79 L432.02 67.16 L432.35 66.53 L432.68 65.89 L433.01 65.25 L433.34 64.61 L433.67 63.96 L434.00 63.31 L434.34 62.63 L434.68 61.95 L435.01 61.26 L435.35 60.57 L435.68 59.87 L436.02 59.17 L436.35 58.47 L436.68 57.77 L437.01 57.06 L437.34 56.35 L437.67 55.64 L438.00 54.93 L438.34 54.20 L438.67 53.46 L439.01 52.73 L439.35 51.99 L439.68 51.25 L440.01 50.51 L440.35 49.76 L440.68 49.01 L441.01 48.26 L441.34 47.51 L441.67 46.76 L442.00 46.00 L442.34 45.21 L442.68 44.43 L443.01 43.64 L443.35 42.85 L443.69 42.06 L444.02 41.27 L444.35 40.47 L444.69 39.66 L445.02 38.86 L445.35 38.04 L445.67 37.23 L446.00 36.40 L446.35 35.52 L446.70 34.60 L447.06 33.66 L447.42 32.70 L447.78 31.74 L448.13 30.79 L448.48 29.84 L448.81 28.92 L449.14 28.03 L449.44 27.18 L449.73 26.38 L450.00 25.63 L450.16 25.18 L450.31 24.75 L450.46 24.33 L450.59 23.94 L450.72 23.56 L450.85 23.18 L450.97 22.82 L451.10 22.45 L451.22 22.09 L451.34 21.72 L451.47 21.35 L451.60 20.97" stroke="#000" stroke-width="2"/>
<path d="M258.10 225.40 L258.68 224.96 L259.27 224.52 L259.85 224.07 L260.44 223.63 L261.03 223.18 L261.61 222.74 L262.20 222.29 L262.78 221.85 L263.36 221.41 L263.95 220.98 L264.52 220.55 L265.10 220.12 L265.65 219.72 L266.19 219.32 L266.73 218.94 L267.27 218.55 L267.80 218.17 L268.34 217.79 L268.88 217.41 L269.41 217.03 L269.95 216.64 L270.50 216.24 L271.05 215.84 L271.60 215.43 L272.21 214.96 L272.83 214.49 L273.45 214.00 L274.07 213.51 L274.70 213.01 L275.33 212.51 L275.97 212.01 L276.60 211.50 L277.23 211.01 L277.86 210.51 L278.48 210.03 L279.10 209.55 L279.69 209.10 L280.27 208.66 L280.85 208.22 L281.43 207.79 L282.01 207.35 L282.58 206.92 L283.16 206.49 L283.74 206.07 L284.32 205.64 L284.91 205.22 L285.50 204.79 L286.10 204.37 L286.72 203.93 L287.35 203.49 L287.97 203.05 L288.60 202.61 L289.23 202.18 L289.87 201.74 L290.51 201.31 L291.16 200.88 L291.81 200.45 L292.47 200.03 L293.13 199.61 L293.80 199.20 L294.51 198.77 L295.24 198.34 L295.98 197.92 L296.73 197.50 L297.49 197.08 L298.25 196.67 L299.00 196.26 L299.76 195.85 L300.51 195.45 L301.25 195.05 L301.98 194.64 L302.70 194.25 L303.35 193.87 L304.01 193.49 L304.66 193.10 L305.31 192.72 L305.96 192.33 L306.60 191.95 L307.23 191.58 L307.85 191.22 L308.46 190.87 L309.06 190.55 L309.64 190.25 L310.20 189.97 L310.61 189.78 L311.01 189.60 L311.41 189.43 L311.80 189.27 L312.18 189.12 L312.55 188.97 L312.92 188.84 L313.29 188.71 L313.65 188.58 L314.00 188.47 L314.35 188.35 L314.70 188.25 L314.98 188.15 L315.27 188.06 L315.55 187.97 L315.82 187.87 L316.09 187.78 L316.36 187.70 L316.63 187.63 L316.89 187.57 L317.15 187.52 L317.40 187.50 L317.65 187.49 L317.90 187.50 L318.12 187.53 L318.33 187.56 L318.54 187.61 L318.75 187.68 L318.96 187.75 L319.16 187.83 L319.36 187.93 L319.56 188.04 L319.75 188.16 L319.94 188.30 L320.12 188.44 L320.30 188.60 L320.54 188.84 L320.77 189.12 L321.00 189.42 L321.22 189.75 L321.43 190.10 L321.63 190.48 L321.83 190.87 L322.02 191.27 L322.20 191.69 L322.38 192.12 L322.54 192.56 L322.70 193.00 L322.89 193.60 L323.07 194.23 L323.22 194.88 L323.36 195.55 L323.49 196.25 L323.61 196.96 L323.71 197.70 L323.81 198.46 L323.91 199.24 L324.01 200.04 L324.10 200.86 L324.20 201.70 L324.33 203.01 L324.45 204.57 L324.56 206.30 L324.66 208.13 L324.75 210.01 L324.84 211.85 L324.92 213.60 L324.99 215.19 L325.07 216.53 L325.14 217.58 L325.22 218.26 L325.30 218.50 L325.40 218.15 L325.49 217.18 L325.58 215.67 L325.67 213.72 L325.76 211.43 L325.84 208.89 L325.92 206.20 L326.00 203.45 L326.08 200.75 L326.15 198.17 L326.23 195.82 L326.30 193.80 L326.36 192.37 L326.41 191.00 L326.46 189.67 L326.50 188.38 L326.55 187.12 L326.59 185.86 L326.64 184.61 L326.69 183.36 L326.73 182.08 L326.79 180.76 L326.84 179.41 L326.90 178.00 L326.98 176.22 L327.05 174.37 L327.13 172.47 L327.21 170.52 L327.30 168.53 L327.39 166.54 L327.48 164.54 L327.57 162.55 L327.67 160.59 L327.78 158.67 L327.89 156.80 L328.00 155.00 L328.10 153.41 L328.21 151.68 L328.31 149.85 L328.42 148.00 L328.54 146.16 L328.65 144.40 L328.77 142.76 L328.90 141.30 L329.02 140.07 L329.14 139.12 L329.27 138.52 L329.40 138.30 L329.49 138.42 L329.59 138.75 L329.69 139.27 L329.78 139.94 L329.88 140.74 L329.98 141.62 L330.08 142.56 L330.18 143.52 L330.29 144.48 L330.39 145.40 L330.49 146.25 L330.60 147.00 L330.69 147.62 L330.78 148.24 L330.87 148.86 L330.96 149.47 L331.05 150.09 L331.15 150.69 L331.24 151.28 L331.34 151.86 L331.44 152.43 L331.56 152.97 L331.67 153.50 L331.80 154.00 L331.90 154.37 L331.99 154.73 L332.08 155.09 L332.18 155.45 L332.27 155.79 L332.38 156.12 L332.48 156.44 L332.60 156.75 L332.73 157.04 L332.87 157.31 L333.03 157.57 L333.20 157.80 L333.35 157.97 L333.52 158.13 L333.69 158.28 L333.87 158.42 L334.06 158.54 L334.25 158.66 L334.45 158.76 L334.66 158.86 L334.86 158.96 L335.07 159.04 L335.29 159.12 L335.50 159.20 L335.73 159.28 L335.97 159.35 L336.21 159.42 L336.45 159.48 L336.70 159.54 L336.96 159.58 L337.21 159.62 L337.47 159.64 L337.73 159.65 L337.99 159.65 L338.25 159.63 L338.50 159.60 L338.79 159.54 L339.07 159.45 L339.36 159.34 L339.65 159.21 L339.94 159.06 L340.23 158.91 L340.52 158.74 L340.81 158.57 L341.11 158.40 L341.40 158.23 L341.70 158.07 L342.00 157.92 L342.32 157.77 L342.65 157.61 L342.98 157.46 L343.32 157.31 L343.65 157.16 L343.99 157.01 L344.32 156.85 L344.66 156.70 L345.00 156.54 L345.33 156.38 L345.67 156.21 L346.00 156.05 L346.34 155.87 L346.67 155.69 L347.01 155.51 L347.34 155.33 L347.68 155.15 L348.01 154.96 L348.34 154.77 L348.67 154.58 L349.01 154.39 L349.34 154.19 L349.67 154.00 L350.00 153.80 L350.34 153.60 L350.67 153.39 L351.01 153.18 L351.34 152.97 L351.67 152.76 L352.01 152.55 L352.34 152.34 L352.67 152.12 L353.01 151.90 L353.34 151.68 L353.67 151.46 L354.00 151.24 L354.34 151.01 L354.67 150.79 L355.01 150.56 L355.34 150.33 L355.67 150.09 L356.01 149.86 L356.34 149.62 L356.67 149.39 L357.00 149.15 L357.34 148.91 L357.67 148.67 L358.00 148.43 L358.34 148.19 L358.67 147.94 L359.00 147.69 L359.34 147.44 L359.67 147.19 L360.01 146.94 L360.34 146.69 L360.67 146.44 L361.00 146.18 L361.34 145.93 L361.67 145.67 L362.00 145.41 L362.33 145.16 L362.67 144.89 L363.00 144.63 L363.34 144.37 L363.67 144.10 L364.00 143.84 L364.34 143.57 L364.67 143.31 L365.00 143.04 L365.34 142.77 L365.67 142.50 L366.00 142.24 L366.33 141.96 L366.67 141.69 L367.00 141.42 L367.34 141.14 L367.67 140.87 L368.00 140.59 L368.34 140.32 L368.67 140.04 L369.00 139.76 L369.34 139.48 L369.67 139.20 L370.00 138.92 L370.33 138.64 L370.67 138.36 L371.00 138.08 L371.34 137.79 L371.67 137.51 L372.00 137.22 L372.34 136.94 L372.67 136.65 L373.00 136.37 L373.33 136.08 L373.67 135.79 L374.00 135.51 L374.33 135.22 L374.67 134.93 L375.00 134.63 L375.34 134.34 L375.67 134.05 L376.00 133.76 L376.34 133.47 L376.67 133.17 L377.00 132.88 L377.33 132.59 L377.67 132.29 L378.00 132.00 L378.33 131.70 L378.67 131.40 L379.00 131.10 L379.34 130.81 L379.67 130.51 L380.00 130.21 L380.34 129.91 L380.67 129.61 L381.00 129.31 L381.33 129.01 L381.67 128.71 L382.00 128.40 L382.33 128.10 L382.67 127.80 L383.00 127.49 L383.34 127.19 L383.67 126.88 L384.00 126.57 L384.34 126.27 L384.67 125.96 L385.00 125.65 L385.33 125.35 L385.67 125.04 L386.00 124.73 L386.33 124.42 L386.67 124.11 L387.00 123.79 L387.34 123.48 L387.67 123.17 L388.00 122.86 L388.34 122.54 L388.67 122.23 L389.00 121.91 L389.34 121.60 L389.67 121.28 L390.00 120.96 L390.33 120.65 L390.67 120.33 L391.00 120.00 L391.34 119.68 L391.67 119.36 L392.00 119.04 L392.34 118.72 L392.67 118.39 L393.00 118.07 L393.34 117.75 L393.67 117.42 L394.00 117.09 L394.33 116.76 L394.67 116.43 L395.00 116.10 L395.34 115.77 L395.67 115.44 L396.00 115.11 L396.34 114.77 L396.67 114.44 L397.00 114.10 L397.34 113.77 L397.67 113.43 L398.00 113.09 L398.33 112.75 L398.67 112.41 L399.00 112.06 L399.34 111.72 L399.67 111.37 L400.01 111.03 L400.34 110.68 L400.67 110.33 L401.00 109.98 L401.34 109.63 L401.67 109.28 L402.00 108.93 L402.34 108.57 L402.67 108.21 L403.01 107.85 L403.34 107.49 L403.67 107.13 L404.01 106.77 L404.34 106.40 L404.67 106.04 L405.01 105.67 L405.34 105.31 L405.67 104.94 L406.00 104.57 L406.34 104.19 L406.67 103.81 L407.01 103.43 L407.34 103.05 L407.67 102.67 L408.01 102.28 L408.34 101.90 L408.67 101.51 L409.01 101.12 L409.34 100.74 L409.67 100.34 L410.00 99.95 L410.34 99.55 L410.67 99.15 L411.01 98.74 L411.34 98.34 L411.68 97.93 L412.01 97.52 L412.34 97.11 L412.68 96.70 L413.01 96.28 L413.34 95.87 L413.67 95.45 L414.00 95.03 L414.34 94.60 L414.67 94.17 L415.01 93.73 L415.34 93.30 L415.68 92.86 L416.01 92.42 L416.35 91.98 L416.68 91.54 L417.01 91.09 L417.34 90.64 L417.67 90.19 L418.00 89.74 L418.34 89.28 L418.67 88.81 L419.01 88.34 L419.35 87.87 L419.68 87.39 L420.01 86.91 L420.35 86.44 L420.68 85.96 L421.01 85.47 L421.34 84.99 L421.67 84.50 L422.00 84.01 L422.34 83.50 L422.68 82.99 L423.01 82.48 L423.35 81.96 L423.68 81.45 L424.02 80.93 L424.35 80.40 L424.68 79.88 L425.01 79.35 L425.34 78.82 L425.67 78.29 L426.00 77.75 L426.34 77.20 L426.68 76.64 L427.01 76.07 L427.35 75.51 L427.68 74.94 L428.02 74.37 L428.35 73.80 L428.68 73.22 L429.01 72.64 L429.34 72.06 L429.67 71.48 L430.00 70.89 L430.34 70.27 L430.68 69.66 L431.01 69.04 L431.35 68.41 L431.69 67.79 L432.02 67.16 L432.35 66.53 L432.68 65.89 L433.01 65.25 L433.34 64.61 L433.67 63.96 L434.00 63.31 L434.34 62.64 L434.68 61.96 L435.02 61.27 L435.36 60.59 L435.69 59.90 L436.03 59.21 L436.36 58.51 L436.69 57.81 L437.02 57.10 L437.35 56.39 L437.68 55.66 L438.00 54.93 L438.35 54.13 L438.69 53.31 L439.03 52.50 L439.37 51.67 L439.71 50.83 L440.04 49.99 L440.37 49.14 L440.70 48.29 L441.03 47.42 L441.35 46.56 L441.68 45.68 L442.00 44.80 L442.35 43.84 L442.69 42.87 L443.03 41.89 L443.36 40.91 L443.70 39.91 L444.03 38.91 L444.36 37.90 L444.69 36.89 L445.02 35.87 L445.35 34.85 L445.67 33.83 L446.00 32.80 L446.35 31.71 L446.70 30.58 L447.06 29.43 L447.42 28.26 L447.77 27.09 L448.13 25.92 L448.47 24.77 L448.81 23.64 L449.14 22.56 L449.44 21.52 L449.73 20.54 L450.00 19.63 L450.16 19.08 L450.31 18.56 L450.46 18.06 L450.59 17.59 L450.72 17.12 L450.85 16.68 L450.97 16.23 L451.10 15.80 L451.22 15.36 L451.34 14.92 L451.47 14.47 L451.60 14.01" stroke="#f00" stroke-width="2.3" stroke-dasharray="0 8.4" stroke-linecap="round"/>
<path d="M258.10 221.91 L258.68 221.49 L259.27 221.07 L259.85 220.64 L260.44 220.22 L261.03 219.80 L261.61 219.38 L262.20 218.96 L262.78 218.54 L263.36 218.12 L263.95 217.71 L264.52 217.30 L265.10 216.89 L265.65 216.51 L266.19 216.14 L266.73 215.78 L267.27 215.41 L267.80 215.05 L268.34 214.69 L268.88 214.33 L269.41 213.97 L269.95 213.60 L270.50 213.23 L271.05 212.85 L271.60 212.46 L272.21 212.02 L272.83 211.56 L273.45 211.10 L274.07 210.64 L274.70 210.16 L275.33 209.68 L275.97 209.21 L276.60 208.73 L277.23 208.25 L277.86 207.79 L278.48 207.32 L279.10 206.87 L279.69 206.45 L280.27 206.03 L280.85 205.61 L281.43 205.20 L282.01 204.79 L282.58 204.38 L283.16 203.97 L283.74 203.57 L284.32 203.17 L284.91 202.76 L285.50 202.36 L286.10 201.96 L286.72 201.55 L287.35 201.13 L287.97 200.72 L288.60 200.30 L289.24 199.89 L289.87 199.48 L290.51 199.08 L291.16 198.67 L291.81 198.27 L292.47 197.87 L293.13 197.48 L293.80 197.09 L294.51 196.69 L295.24 196.29 L295.98 195.89 L296.73 195.50 L297.49 195.12 L298.25 194.74 L299.00 194.36 L299.76 193.98 L300.51 193.60 L301.25 193.23 L301.98 192.86 L302.70 192.48 L303.35 192.14 L304.01 191.78 L304.66 191.42 L305.31 191.06 L305.96 190.70 L306.60 190.34 L307.23 189.99 L307.85 189.66 L308.46 189.34 L309.06 189.03 L309.64 188.75 L310.20 188.50 L310.61 188.33 L311.01 188.16 L311.41 188.01 L311.80 187.86 L312.18 187.72 L312.55 187.59 L312.92 187.47 L313.29 187.36 L313.65 187.25 L314.00 187.14 L314.35 187.04 L314.70 186.95 L314.99 186.87 L315.27 186.79 L315.55 186.70 L315.82 186.62 L316.10 186.54 L316.37 186.47 L316.63 186.41 L316.89 186.36 L317.15 186.32 L317.41 186.30 L317.66 186.31 L317.90 186.33 L318.12 186.36 L318.34 186.41 L318.55 186.47 L318.76 186.54 L318.97 186.62 L319.17 186.71 L319.37 186.82 L319.56 186.94 L319.76 187.07 L319.94 187.22 L320.12 187.38 L320.30 187.56 L320.55 187.85 L320.79 188.18 L321.02 188.53 L321.24 188.92 L321.46 189.33 L321.66 189.78 L321.85 190.25 L322.03 190.75 L322.21 191.28 L322.38 191.83 L322.54 192.40 L322.70 193.00 L322.93 194.26 L323.10 195.83 L323.21 197.63 L323.28 199.59 L323.33 201.63 L323.36 203.67 L323.40 205.65 L323.47 207.50 L323.56 209.13 L323.70 210.47 L323.91 211.45 L324.20 212.00 L324.28 212.07 L324.37 212.12 L324.46 212.17 L324.56 212.20 L324.66 212.21 L324.75 212.22 L324.85 212.21 L324.95 212.20 L325.04 212.17 L325.13 212.12 L325.22 212.07 L325.30 212.00 L325.58 211.50 L325.79 210.64 L325.95 209.47 L326.06 208.05 L326.13 206.42 L326.17 204.65 L326.19 202.77 L326.20 200.85 L326.21 198.94 L326.22 197.10 L326.25 195.36 L326.30 193.80 L326.36 192.45 L326.42 191.14 L326.47 189.84 L326.51 188.56 L326.56 187.29 L326.60 186.02 L326.65 184.74 L326.69 183.44 L326.74 182.13 L326.79 180.79 L326.84 179.42 L326.90 178.00 L326.98 176.22 L327.05 174.37 L327.13 172.47 L327.21 170.52 L327.30 168.53 L327.39 166.54 L327.48 164.54 L327.57 162.55 L327.67 160.59 L327.78 158.67 L327.89 156.80 L328.00 155.00 L328.10 153.41 L328.21 151.68 L328.31 149.85 L328.42 148.00 L328.54 146.16 L328.65 144.40 L328.77 142.76 L328.90 141.30 L329.02 140.07 L329.14 139.12 L329.27 138.52 L329.40 138.30 L329.49 138.42 L329.59 138.75 L329.69 139.27 L329.78 139.94 L329.88 140.74 L329.98 141.62 L330.08 142.56 L330.18 143.52 L330.29 144.48 L330.39 145.40 L330.49 146.25 L330.60 147.00 L330.69 147.62 L330.78 148.24 L330.87 148.86 L330.96 149.47 L331.05 150.09 L331.15 150.69 L331.24 151.28 L331.34 151.86 L331.44 152.43 L331.56 152.97 L331.67 153.50 L331.80 154.00 L331.90 154.37 L331.99 154.73 L332.08 155.09 L332.18 155.44 L332.28 155.78 L332.38 156.11 L332.49 156.43 L332.61 156.74 L332.73 157.03 L332.87 157.31 L333.03 157.56 L333.20 157.80 L333.35 157.98 L333.52 158.14 L333.69 158.29 L333.87 158.43 L334.06 158.56 L334.26 158.68 L334.46 158.79 L334.66 158.90 L334.87 159.01 L335.08 159.11 L335.29 159.22 L335.50 159.32 L335.73 159.45 L335.97 159.57 L336.21 159.70 L336.45 159.82 L336.70 159.95 L336.95 160.06 L337.20 160.17 L337.46 160.26 L337.72 160.35 L337.98 160.41 L338.24 160.45 L338.50 160.48 L338.78 160.47 L339.06 160.44 L339.35 160.39 L339.64 160.32 L339.93 160.23 L340.22 160.13 L340.52 160.02 L340.81 159.90 L341.11 159.78 L341.41 159.66 L341.70 159.54 L342.00 159.42 L342.33 159.29 L342.66 159.15 L342.99 159.01 L343.32 158.86 L343.66 158.71 L343.99 158.55 L344.33 158.39 L344.67 158.22 L345.00 158.05 L345.34 157.89 L345.67 157.72 L346.00 157.55 L346.34 157.37 L346.67 157.19 L347.01 157.01 L347.34 156.83 L347.68 156.65 L348.01 156.46 L348.34 156.27 L348.67 156.08 L349.01 155.89 L349.34 155.69 L349.67 155.50 L350.00 155.30 L350.34 155.10 L350.67 154.89 L351.01 154.68 L351.34 154.47 L351.67 154.26 L352.01 154.05 L352.34 153.84 L352.67 153.62 L353.01 153.40 L353.34 153.18 L353.67 152.96 L354.00 152.74 L354.34 152.51 L354.67 152.29 L355.01 152.06 L355.34 151.83 L355.67 151.59 L356.01 151.36 L356.34 151.12 L356.67 150.89 L357.00 150.65 L357.34 150.41 L357.67 150.17 L358.00 149.93 L358.34 149.69 L358.67 149.44 L359.00 149.19 L359.34 148.94 L359.67 148.69 L360.01 148.44 L360.34 148.19 L360.67 147.94 L361.00 147.68 L361.34 147.43 L361.67 147.17 L362.00 146.91 L362.33 146.66 L362.67 146.39 L363.00 146.13 L363.34 145.87 L363.67 145.60 L364.00 145.34 L364.34 145.07 L364.67 144.81 L365.00 144.54 L365.34 144.27 L365.67 144.00 L366.00 143.74 L366.33 143.46 L366.67 143.19 L367.00 142.92 L367.34 142.64 L367.67 142.37 L368.00 142.09 L368.34 141.82 L368.67 141.54 L369.00 141.26 L369.34 140.98 L369.67 140.70 L370.00 140.42 L370.33 140.14 L370.67 139.86 L371.00 139.58 L371.34 139.29 L371.67 139.01 L372.00 138.72 L372.34 138.44 L372.67 138.15 L373.00 137.87 L373.33 137.58 L373.67 137.29 L374.00 137.01 L374.33 136.72 L374.67 136.43 L375.00 136.13 L375.34 135.84 L375.67 135.55 L376.00 135.26 L376.34 134.97 L376.67 134.67 L377.00 134.38 L377.33 134.09 L377.67 133.79 L378.00 133.50 L378.33 133.20 L378.67 132.90 L379.00 132.60 L379.34 132.31 L379.67 132.01 L380.00 131.71 L380.34 131.41 L380.67 131.11 L381.00 130.81 L381.33 130.51 L381.67 130.21 L382.00 129.90 L382.33 129.60 L382.67 129.30 L383.00 128.99 L383.34 128.69 L383.67 128.38 L384.00 128.07 L384.34 127.77 L384.67 127.46 L385.00 127.15 L385.33 126.85 L385.67 126.54 L386.00 126.23 L386.33 125.92 L386.67 125.61 L387.00 125.29 L387.34 124.98 L387.67 124.67 L388.00 124.36 L388.34 124.04 L388.67 123.73 L389.00 123.41 L389.34 123.10 L389.67 122.78 L390.00 122.46 L390.33 122.15 L390.67 121.83 L391.00 121.50 L391.34 121.18 L391.67 120.86 L392.00 120.54 L392.34 120.22 L392.67 119.89 L393.00 119.57 L393.34 119.25 L393.67 118.92 L394.00 118.59 L394.33 118.26 L394.67 117.93 L395.00 117.60 L395.34 117.27 L395.67 116.94 L396.00 116.61 L396.34 116.27 L396.67 115.94 L397.00 115.60 L397.34 115.27 L397.67 114.93 L398.00 114.59 L398.33 114.25 L398.67 113.91 L399.00 113.56 L399.34 113.22 L399.67 112.87 L400.01 112.53 L400.34 112.18 L400.67 111.83 L401.00 111.48 L401.34 111.13 L401.67 110.78 L402.00 110.43 L402.34 110.07 L402.67 109.71 L403.01 109.35 L403.34 108.99 L403.67 108.63 L404.01 108.27 L404.34 107.90 L404.67 107.54 L405.01 107.17 L405.34 106.81 L405.67 106.44 L406.00 106.07 L406.34 105.69 L406.67 105.31 L407.01 104.93 L407.34 104.55 L407.67 104.17 L408.01 103.78 L408.34 103.40 L408.67 103.01 L409.01 102.62 L409.34 102.24 L409.67 101.84 L410.00 101.45 L410.34 101.05 L410.67 100.65 L411.01 100.24 L411.34 99.84 L411.68 99.43 L412.01 99.02 L412.34 98.61 L412.68 98.20 L413.01 97.78 L413.34 97.37 L413.67 96.95 L414.00 96.53 L414.34 96.10 L414.67 95.67 L415.01 95.23 L415.34 94.80 L415.68 94.36 L416.01 93.92 L416.35 93.48 L416.68 93.04 L417.01 92.59 L417.34 92.14 L417.67 91.69 L418.00 91.24 L418.34 90.78 L418.67 90.31 L419.01 89.84 L419.35 89.37 L419.68 88.90 L420.02 88.42 L420.35 87.95 L420.68 87.47 L421.01 86.98 L421.34 86.50 L421.67 86.00 L422.00 85.51 L422.34 84.99 L422.68 84.46 L423.02 83.93 L423.35 83.40 L423.69 82.86 L424.02 82.32 L424.36 81.78 L424.69 81.23 L425.02 80.68 L425.35 80.12 L425.67 79.57 L426.00 79.00 L426.34 78.41 L426.68 77.81 L427.02 77.21 L427.35 76.61 L427.69 75.99 L428.02 75.38 L428.35 74.76 L428.68 74.14 L429.01 73.52 L429.34 72.90 L429.67 72.27 L430.00 71.64 L430.34 70.98 L430.68 70.33 L431.02 69.68 L431.36 69.02 L431.69 68.36 L432.03 67.70 L432.37 67.03 L432.70 66.35 L433.03 65.67 L433.36 64.98 L433.68 64.28 L434.00 63.56 L434.35 62.77 L434.69 61.96 L435.04 61.14 L435.37 60.32 L435.71 59.48 L436.04 58.64 L436.37 57.78 L436.70 56.92 L437.03 56.06 L437.35 55.19 L437.68 54.31 L438.00 53.43 L438.34 52.47 L438.69 51.51 L439.02 50.53 L439.36 49.54 L439.69 48.55 L440.03 47.55 L440.36 46.55 L440.69 45.54 L441.01 44.53 L441.34 43.52 L441.67 42.51 L442.00 41.50 L442.34 40.47 L442.68 39.44 L443.02 38.42 L443.36 37.40 L443.70 36.38 L444.04 35.35 L444.37 34.31 L444.70 33.26 L445.04 32.20 L445.36 31.12 L445.68 30.02 L446.00 28.90 L446.36 27.57 L446.72 26.16 L447.08 24.69 L447.44 23.18 L447.79 21.66 L448.14 20.14 L448.48 18.64 L448.81 17.18 L449.13 15.78 L449.44 14.46 L449.73 13.24 L450.00 12.13 L450.15 11.54 L450.30 10.98 L450.44 10.45 L450.58 9.95 L450.71 9.47 L450.84 9.01 L450.96 8.56 L451.09 8.11 L451.21 7.66 L451.34 7.21 L451.47 6.75 L451.60 6.27" stroke="#00f" stroke-width="2" stroke-dasharray="4 6.4" stroke-linecap="round"/>
</g>
<line x1="257.00" y1="5.40" x2="452.00" y2="5.40" stroke="#262626" stroke-width="1.35"/>
<line x1="451.40" y1="4.80" x2="451.40" y2="243.90" stroke="#262626" stroke-width="1.35"/>
<line x1="257.00" y1="243.30" x2="452.00" y2="243.30" stroke="#262626" stroke-width="1.35"/>
<line x1="257.60" y1="4.80" x2="257.60" y2="243.90" stroke="#262626" stroke-width="1.35"/>
<line x1="253.60" y1="243.28" x2="257.60" y2="243.28" stroke="#262626" stroke-width="1.00"/>
<text x="251.80" y="245.46" font-size="9.10" font-weight="bold" text-anchor="end">-6</text>
<line x1="253.60" y1="203.72" x2="257.60" y2="203.72" stroke="#262626" stroke-width="1.00"/>
<text x="251.80" y="205.90" font-size="9.10" font-weight="bold" text-anchor="end">-4</text>
<line x1="253.60" y1="164.16" x2="257.60" y2="164.16" stroke="#262626" stroke-width="1.00"/>
<text x="251.80" y="166.34" font-size="9.10" font-weight="bold" text-anchor="end">-2</text>
<line x1="253.60" y1="124.60" x2="257.60" y2="124.60" stroke="#262626" stroke-width="1.00"/>
<text x="251.80" y="126.78" font-size="9.10" font-weight="bold" text-anchor="end">0</text>
<line x1="253.60" y1="85.04" x2="257.60" y2="85.04" stroke="#262626" stroke-width="1.00"/>
<text x="251.80" y="87.22" font-size="9.10" font-weight="bold" text-anchor="end">2</text>
<line x1="253.60" y1="45.48" x2="257.60" y2="45.48" stroke="#262626" stroke-width="1.00"/>
<text x="251.80" y="47.66" font-size="9.10" font-weight="bold" text-anchor="end">4</text>
<line x1="253.60" y1="5.92" x2="257.60" y2="5.92" stroke="#262626" stroke-width="1.00"/>
<text x="251.80" y="8.10" font-size="9.10" font-weight="bold" text-anchor="end">6</text>
<line x1="255.60" y1="223.50" x2="257.60" y2="223.50" stroke="#262626" stroke-width="1.00"/>
<line x1="255.60" y1="183.94" x2="257.60" y2="183.94" stroke="#262626" stroke-width="1.00"/>
<line x1="255.60" y1="144.38" x2="257.60" y2="144.38" stroke="#262626" stroke-width="1.00"/>
<line x1="255.60" y1="104.82" x2="257.60" y2="104.82" stroke="#262626" stroke-width="1.00"/>
<line x1="255.60" y1="65.26" x2="257.60" y2="65.26" stroke="#262626" stroke-width="1.00"/>
<line x1="255.60" y1="25.70" x2="257.60" y2="25.70" stroke="#262626" stroke-width="1.00"/>
<line x1="257.80" y1="243.30" x2="257.80" y2="247.30" stroke="#262626" stroke-width="1.00"/>
<text x="257.80" y="256.60" font-size="8.60" font-weight="normal" text-anchor="middle">12</text>
<line x1="301.00" y1="243.30" x2="301.00" y2="247.30" stroke="#262626" stroke-width="1.00"/>
<text x="301.00" y="256.60" font-size="8.60" font-weight="normal" text-anchor="middle">13</text>
<line x1="344.20" y1="243.30" x2="344.20" y2="247.30" stroke="#262626" stroke-width="1.00"/>
<text x="344.20" y="256.60" font-size="8.60" font-weight="normal" text-anchor="middle">14</text>
<line x1="387.40" y1="243.30" x2="387.40" y2="247.30" stroke="#262626" stroke-width="1.00"/>
<text x="387.40" y="256.60" font-size="8.60" font-weight="normal" text-anchor="middle">15</text>
<line x1="430.60" y1="243.30" x2="430.60" y2="247.30" stroke="#262626" stroke-width="1.00"/>
<text x="430.60" y="256.60" font-size="8.60" font-weight="normal" text-anchor="middle">16</text>
<line x1="279.40" y1="243.30" x2="279.40" y2="245.30" stroke="#262626" stroke-width="1.00"/>
<line x1="322.60" y1="243.30" x2="322.60" y2="245.30" stroke="#262626" stroke-width="1.00"/>
<line x1="365.80" y1="243.30" x2="365.80" y2="245.30" stroke="#262626" stroke-width="1.00"/>
<line x1="409.00" y1="243.30" x2="409.00" y2="245.30" stroke="#262626" stroke-width="1.00"/>
<line x1="265.90" y1="18.90" x2="291.30" y2="18.90" stroke="#000" stroke-width="2"/>
<line x1="266.90" y1="33.95" x2="284.90" y2="33.95" stroke="#f00" stroke-width="2.4" stroke-dasharray="0 8.4" stroke-linecap="round"/>
<line x1="266.40" y1="49.00" x2="291.30" y2="49.00" stroke="#00f" stroke-width="2" stroke-dasharray="4.5 6" stroke-linecap="round"/>
<text x="294.00" y="22.30" font-size="9.85">a<tspan font-size="6" dy="4">x</tspan><tspan dy="-4"> = 6.0 mm</tspan></text>
<text x="294.00" y="37.35" font-size="9.85">a<tspan font-size="6" dy="4">x</tspan><tspan dy="-4"> = 6.5 mm</tspan></text>
<text x="294.00" y="52.40" font-size="9.85">a<tspan font-size="6" dy="4">x</tspan><tspan dy="-4"> = 7.0 mm</tspan></text>
<text x="354.40" y="272.80" font-size="9.10" font-weight="bold" text-anchor="middle">Frequency (GHz)</text>
<text x="241.50" y="112.20" font-size="9.80" font-weight="bold" text-anchor="middle" transform="rotate(-90 241.50 112.20)">Real part of ε</text>
<text x="447.20" y="238.20" font-size="9.40" font-weight="bold" text-anchor="end">(b)</text>
<clipPath id="clip110"><rect x="488.60" y="10.40" width="194.70" height="235.20"/></clipPath>
<g clip-path="url(#clip110)" fill="none" stroke-linejoin="round">
<path d="M489.00 88.90 L491.59 88.90 L494.21 88.90 L496.83 88.90 L499.46 88.90 L502.09 88.90 L504.71 88.90 L507.32 88.90 L509.91 88.90 L512.48 88.90 L515.03 88.90 L517.53 88.90 L520.00 88.90 L522.24 88.90 L524.54 88.89 L526.89 88.88 L529.24 88.87 L531.57 88.85 L533.86 88.84 L536.07 88.83 L538.18 88.83 L540.16 88.83 L541.97 88.85 L543.59 88.87 L545.00 88.90 L545.56 88.91 L546.08 88.92 L546.56 88.93 L547.02 88.94 L547.45 88.94 L547.86 88.95 L548.24 88.97 L548.61 88.99 L548.97 89.02 L549.32 89.07 L549.66 89.13 L550.00 89.20 L550.25 89.26 L550.49 89.33 L550.72 89.41 L550.95 89.49 L551.17 89.58 L551.38 89.67 L551.59 89.76 L551.79 89.86 L551.98 89.97 L552.16 90.07 L552.33 90.19 L552.50 90.30 L552.63 90.39 L552.75 90.48 L552.86 90.57 L552.96 90.66 L553.07 90.76 L553.16 90.85 L553.26 90.96 L553.35 91.07 L553.44 91.18 L553.52 91.31 L553.61 91.45 L553.70 91.60 L553.85 91.88 L553.98 92.20 L554.12 92.54 L554.24 92.92 L554.36 93.31 L554.48 93.73 L554.59 94.16 L554.70 94.60 L554.80 95.05 L554.91 95.50 L555.00 95.95 L555.10 96.40 L555.21 96.94 L555.31 97.47 L555.41 98.01 L555.50 98.56 L555.59 99.12 L555.67 99.69 L555.75 100.28 L555.82 100.89 L555.89 101.53 L555.96 102.19 L556.03 102.88 L556.10 103.60 L556.21 104.82 L556.31 106.13 L556.40 107.51 L556.48 108.96 L556.57 110.47 L556.64 112.03 L556.71 113.63 L556.78 115.26 L556.84 116.93 L556.89 118.61 L556.95 120.30 L557.00 122.00 L557.06 124.12 L557.10 126.32 L557.14 128.56 L557.17 130.86 L557.19 133.20 L557.21 135.57 L557.23 137.97 L557.24 140.38 L557.25 142.79 L557.27 145.21 L557.28 147.61 L557.30 150.00 L557.32 152.47 L557.34 154.97 L557.35 157.49 L557.37 160.02 L557.38 162.57 L557.40 165.11 L557.41 167.64 L557.43 170.16 L557.44 172.67 L557.46 175.15 L557.48 177.59 L557.50 180.00 L557.52 182.20 L557.54 184.43 L557.55 186.67 L557.57 188.92 L557.59 191.15 L557.61 193.35 L557.63 195.50 L557.65 197.59 L557.68 199.60 L557.71 201.51 L557.75 203.32 L557.80 205.00 L557.83 206.00 L557.86 206.96 L557.90 207.89 L557.93 208.78 L557.97 209.64 L558.00 210.47 L558.04 211.27 L558.09 212.06 L558.13 212.82 L558.18 213.56 L558.24 214.29 L558.30 215.00 L558.35 215.53 L558.39 216.05 L558.43 216.56 L558.48 217.07 L558.52 217.56 L558.57 218.04 L558.63 218.50 L558.69 218.95 L558.75 219.37 L558.83 219.78 L558.91 220.15 L559.00 220.50 L559.06 220.71 L559.13 220.92 L559.19 221.14 L559.27 221.35 L559.34 221.56 L559.41 221.75 L559.49 221.92 L559.57 222.08 L559.65 222.21 L559.73 222.31 L559.82 222.37 L559.90 222.40 L559.98 222.39 L560.06 222.35 L560.15 222.28 L560.24 222.19 L560.33 222.08 L560.42 221.96 L560.51 221.81 L560.59 221.66 L560.68 221.50 L560.76 221.33 L560.83 221.17 L560.90 221.00 L561.00 220.70 L561.09 220.37 L561.17 220.01 L561.24 219.62 L561.30 219.21 L561.35 218.78 L561.40 218.33 L561.44 217.88 L561.48 217.41 L561.52 216.94 L561.56 216.47 L561.60 216.00 L561.65 215.41 L561.70 214.80 L561.74 214.18 L561.78 213.55 L561.81 212.90 L561.84 212.24 L561.87 211.57 L561.89 210.88 L561.92 210.18 L561.94 209.47 L561.97 208.74 L562.00 208.00 L562.04 207.03 L562.07 206.03 L562.11 204.99 L562.14 203.93 L562.17 202.85 L562.20 201.75 L562.24 200.64 L562.27 199.52 L562.30 198.39 L562.33 197.26 L562.36 196.13 L562.40 195.00 L562.44 193.80 L562.47 192.61 L562.50 191.41 L562.54 190.22 L562.57 189.02 L562.61 187.80 L562.64 186.57 L562.68 185.32 L562.73 184.04 L562.78 182.73 L562.84 181.39 L562.90 180.00 L563.00 178.14 L563.11 176.19 L563.23 174.17 L563.36 172.10 L563.50 169.98 L563.64 167.83 L563.79 165.66 L563.94 163.49 L564.08 161.33 L564.23 159.18 L564.37 157.07 L564.50 155.00 L564.62 153.03 L564.74 151.05 L564.85 149.05 L564.96 147.05 L565.07 145.06 L565.18 143.08 L565.29 141.13 L565.41 139.21 L565.52 137.33 L565.64 135.49 L565.77 133.71 L565.90 132.00 L566.01 130.71 L566.12 129.47 L566.24 128.26 L566.35 127.08 L566.48 125.93 L566.60 124.80 L566.72 123.67 L566.84 122.55 L566.96 121.43 L567.08 120.31 L567.19 119.16 L567.30 118.00 L567.41 116.80 L567.51 115.58 L567.62 114.36 L567.72 113.12 L567.82 111.89 L567.91 110.65 L568.01 109.43 L568.11 108.22 L568.21 107.03 L568.30 105.85 L568.40 104.71 L568.50 103.60 L568.58 102.68 L568.65 101.75 L568.71 100.81 L568.77 99.88 L568.83 98.97 L568.89 98.07 L568.96 97.20 L569.04 96.37 L569.13 95.57 L569.23 94.82 L569.36 94.13 L569.50 93.50 L569.59 93.16 L569.69 92.82 L569.79 92.51 L569.89 92.20 L569.99 91.91 L570.10 91.63 L570.22 91.37 L570.34 91.12 L570.47 90.89 L570.61 90.68 L570.75 90.48 L570.90 90.30 L571.02 90.18 L571.13 90.07 L571.26 89.97 L571.39 89.89 L571.52 89.81 L571.65 89.73 L571.79 89.67 L571.93 89.60 L572.07 89.55 L572.21 89.50 L572.35 89.45 L572.50 89.40 L572.65 89.36 L572.79 89.32 L572.93 89.30 L573.07 89.27 L573.21 89.26 L573.36 89.25 L573.52 89.24 L573.68 89.23 L573.86 89.23 L574.05 89.22 L574.27 89.21 L574.50 89.20 L575.28 89.17 L576.24 89.14 L577.35 89.12 L578.59 89.10 L579.93 89.09 L581.35 89.08 L582.82 89.07 L584.31 89.06 L585.80 89.05 L587.26 89.04 L588.67 89.02 L590.00 89.00 L591.26 88.97 L592.52 88.94 L593.79 88.91 L595.05 88.88 L596.31 88.84 L597.57 88.81 L598.83 88.77 L600.08 88.73 L601.32 88.70 L602.56 88.66 L603.78 88.63 L605.00 88.60 L606.18 88.59 L607.43 88.61 L608.72 88.66 L610.02 88.71 L611.33 88.76 L612.60 88.81 L613.82 88.83 L614.96 88.83 L616.00 88.78 L616.92 88.69 L617.70 88.53 L618.30 88.30 L618.49 88.19 L618.66 88.07 L618.81 87.94 L618.94 87.80 L619.04 87.66 L619.14 87.51 L619.23 87.35 L619.30 87.19 L619.38 87.03 L619.45 86.86 L619.52 86.68 L619.60 86.50 L619.69 86.27 L619.77 86.03 L619.84 85.78 L619.89 85.52 L619.94 85.25 L619.99 84.97 L620.03 84.69 L620.07 84.40 L620.12 84.11 L620.17 83.81 L620.23 83.50 L620.30 83.20 L620.40 82.80 L620.50 82.39 L620.61 81.97 L620.73 81.54 L620.85 81.10 L620.97 80.65 L621.10 80.20 L621.23 79.74 L621.37 79.28 L621.51 78.82 L621.65 78.36 L621.80 77.90 L621.96 77.39 L622.13 76.87 L622.31 76.34 L622.48 75.80 L622.66 75.26 L622.85 74.72 L623.04 74.18 L623.24 73.65 L623.44 73.12 L623.65 72.60 L623.87 72.09 L624.10 71.60 L624.32 71.15 L624.54 70.72 L624.77 70.30 L625.01 69.88 L625.25 69.47 L625.49 69.06 L625.74 68.66 L626.00 68.26 L626.27 67.85 L626.54 67.44 L626.82 67.02 L627.10 66.60 L627.43 66.11 L627.78 65.61 L628.14 65.11 L628.51 64.61 L628.88 64.10 L629.27 63.59 L629.65 63.08 L630.04 62.58 L630.44 62.07 L630.83 61.57 L631.22 61.08 L631.60 60.60 L631.97 60.14 L632.33 59.69 L632.70 59.24 L633.07 58.79 L633.43 58.35 L633.80 57.91 L634.17 57.47 L634.55 57.04 L634.93 56.60 L635.31 56.17 L635.70 55.73 L636.10 55.30 L636.52 54.85 L636.94 54.41 L637.36 53.97 L637.80 53.54 L638.23 53.11 L638.67 52.67 L639.11 52.24 L639.56 51.80 L640.01 51.36 L640.47 50.91 L640.93 50.46 L641.40 50.00 L641.93 49.47 L642.46 48.93 L642.99 48.39 L643.54 47.83 L644.08 47.28 L644.64 46.71 L645.20 46.15 L645.76 45.59 L646.34 45.03 L646.92 44.48 L647.50 43.94 L648.10 43.40 L648.74 42.85 L649.39 42.30 L650.05 41.76 L650.72 41.23 L651.40 40.70 L652.08 40.17 L652.77 39.64 L653.46 39.11 L654.15 38.59 L654.84 38.06 L655.52 37.53 L656.20 37.00 L656.87 36.47 L657.55 35.93 L658.22 35.40 L658.90 34.86 L659.57 34.33 L660.25 33.79 L660.92 33.26 L661.60 32.73 L662.27 32.19 L662.95 31.66 L663.62 31.13 L664.30 30.60 L664.98 30.07 L665.66 29.54 L666.35 29.00 L667.03 28.47 L667.72 27.93 L668.41 27.40 L669.09 26.87 L669.77 26.34 L670.44 25.82 L671.11 25.31 L671.76 24.80 L672.40 24.30 L672.96 23.86 L673.52 23.41 L674.07 22.96 L674.61 22.51 L675.15 22.07 L675.69 21.63 L676.22 21.20 L676.74 20.79 L677.26 20.39 L677.78 20.00 L678.29 19.64 L678.80 19.30 L679.21 19.04 L679.61 18.80 L680.01 18.58 L680.40 18.36 L680.79 18.16 L681.18 17.96 L681.56 17.77 L681.95 17.58 L682.34 17.39 L682.72 17.20 L683.11 17.00 L683.50 16.80" stroke="#000" stroke-width="2"/>
<path d="M489.00 88.90 L491.59 88.90 L494.21 88.90 L496.83 88.90 L499.46 88.90 L502.09 88.90 L504.71 88.90 L507.32 88.90 L509.91 88.90 L512.48 88.90 L515.03 88.90 L517.53 88.90 L520.00 88.90 L522.24 88.90 L524.54 88.89 L526.89 88.88 L529.24 88.87 L531.57 88.85 L533.86 88.84 L536.07 88.83 L538.18 88.83 L540.16 88.83 L541.97 88.85 L543.59 88.87 L545.00 88.90 L545.56 88.91 L546.08 88.92 L546.56 88.93 L547.02 88.94 L547.45 88.94 L547.86 88.95 L548.24 88.97 L548.61 88.99 L548.97 89.02 L549.32 89.07 L549.66 89.13 L550.00 89.20 L550.25 89.26 L550.49 89.33 L550.72 89.41 L550.95 89.49 L551.17 89.58 L551.38 89.67 L551.59 89.76 L551.79 89.86 L551.98 89.97 L552.16 90.07 L552.33 90.19 L552.50 90.30 L552.63 90.39 L552.75 90.48 L552.86 90.57 L552.96 90.66 L553.07 90.76 L553.16 90.85 L553.26 90.96 L553.35 91.07 L553.44 91.18 L553.52 91.31 L553.61 91.45 L553.70 91.60 L553.85 91.88 L553.98 92.20 L554.12 92.54 L554.24 92.92 L554.36 93.31 L554.48 93.73 L554.59 94.16 L554.70 94.60 L554.80 95.05 L554.91 95.50 L555.00 95.95 L555.10 96.40 L555.21 96.94 L555.31 97.47 L555.41 98.01 L555.50 98.56 L555.59 99.12 L555.67 99.69 L555.75 100.28 L555.82 100.89 L555.89 101.53 L555.96 102.19 L556.03 102.88 L556.10 103.60 L556.21 104.82 L556.31 106.13 L556.40 107.51 L556.48 108.96 L556.57 110.47 L556.64 112.03 L556.71 113.63 L556.78 115.26 L556.84 116.93 L556.89 118.61 L556.95 120.30 L557.00 122.00 L557.06 124.12 L557.10 126.32 L557.14 128.56 L557.17 130.86 L557.19 133.20 L557.21 135.57 L557.23 137.97 L557.24 140.38 L557.25 142.79 L557.27 145.21 L557.28 147.61 L557.30 150.00 L557.32 152.47 L557.34 154.97 L557.35 157.49 L557.37 160.02 L557.38 162.57 L557.40 165.11 L557.41 167.64 L557.43 170.16 L557.44 172.67 L557.46 175.15 L557.48 177.59 L557.50 180.00 L557.52 182.20 L557.54 184.43 L557.55 186.67 L557.57 188.92 L557.59 191.15 L557.61 193.35 L557.63 195.50 L557.65 197.59 L557.68 199.60 L557.71 201.51 L557.75 203.32 L557.80 205.00 L557.83 206.00 L557.86 206.96 L557.90 207.89 L557.93 208.78 L557.97 209.64 L558.00 210.47 L558.04 211.27 L558.09 212.06 L558.13 212.82 L558.18 213.56 L558.24 214.29 L558.30 215.00 L558.35 215.53 L558.39 216.05 L558.43 216.56 L558.48 217.07 L558.52 217.56 L558.57 218.04 L558.63 218.50 L558.69 218.95 L558.75 219.37 L558.83 219.78 L558.91 220.15 L559.00 220.50 L559.06 220.71 L559.13 220.92 L559.19 221.14 L559.27 221.35 L559.34 221.56 L559.41 221.75 L559.49 221.92 L559.57 222.08 L559.65 222.21 L559.73 222.31 L559.82 222.37 L559.90 222.40 L559.98 222.39 L560.06 222.35 L560.15 222.28 L560.24 222.19 L560.33 222.08 L560.42 221.96 L560.51 221.81 L560.59 221.66 L560.68 221.50 L560.76 221.33 L560.83 221.17 L560.90 221.00 L561.00 220.70 L561.09 220.37 L561.17 220.01 L561.24 219.62 L561.30 219.21 L561.35 218.78 L561.40 218.33 L561.44 217.88 L561.48 217.41 L561.52 216.94 L561.56 216.47 L561.60 216.00 L561.65 215.41 L561.70 214.80 L561.74 214.18 L561.78 213.55 L561.81 212.90 L561.84 212.24 L561.87 211.57 L561.89 210.88 L561.92 210.18 L561.94 209.47 L561.97 208.74 L562.00 208.00 L562.04 207.03 L562.07 206.03 L562.11 204.99 L562.14 203.93 L562.17 202.85 L562.20 201.75 L562.24 200.64 L562.27 199.52 L562.30 198.39 L562.33 197.26 L562.36 196.13 L562.40 195.00 L562.44 193.80 L562.47 192.61 L562.50 191.41 L562.54 190.22 L562.57 189.02 L562.61 187.80 L562.64 186.57 L562.68 185.32 L562.73 184.04 L562.78 182.73 L562.84 181.39 L562.90 180.00 L563.00 178.14 L563.11 176.19 L563.23 174.17 L563.36 172.10 L563.50 169.98 L563.64 167.83 L563.79 165.66 L563.94 163.49 L564.08 161.33 L564.23 159.18 L564.37 157.07 L564.50 155.00 L564.62 153.03 L564.74 151.05 L564.85 149.05 L564.96 147.05 L565.07 145.06 L565.18 143.08 L565.29 141.13 L565.41 139.21 L565.52 137.33 L565.64 135.49 L565.77 133.71 L565.90 132.00 L566.01 130.71 L566.12 129.47 L566.24 128.26 L566.35 127.08 L566.48 125.93 L566.60 124.80 L566.72 123.67 L566.84 122.55 L566.96 121.43 L567.08 120.31 L567.19 119.16 L567.30 118.00 L567.41 116.80 L567.51 115.58 L567.62 114.36 L567.72 113.12 L567.82 111.89 L567.91 110.65 L568.01 109.43 L568.11 108.22 L568.21 107.03 L568.30 105.85 L568.40 104.71 L568.50 103.60 L568.58 102.68 L568.65 101.75 L568.71 100.81 L568.77 99.88 L568.83 98.97 L568.89 98.07 L568.96 97.20 L569.04 96.37 L569.13 95.57 L569.23 94.82 L569.36 94.13 L569.50 93.50 L569.59 93.16 L569.69 92.82 L569.79 92.51 L569.89 92.20 L569.99 91.91 L570.10 91.63 L570.22 91.37 L570.34 91.12 L570.47 90.89 L570.61 90.68 L570.75 90.48 L570.90 90.30 L571.02 90.18 L571.13 90.07 L571.26 89.97 L571.39 89.89 L571.52 89.81 L571.65 89.73 L571.79 89.67 L571.93 89.60 L572.07 89.55 L572.21 89.50 L572.35 89.45 L572.50 89.40 L572.65 89.36 L572.79 89.32 L572.93 89.30 L573.07 89.27 L573.21 89.26 L573.36 89.25 L573.52 89.24 L573.68 89.23 L573.86 89.23 L574.05 89.22 L574.27 89.21 L574.50 89.20 L575.28 89.17 L576.24 89.14 L577.35 89.12 L578.59 89.10 L579.93 89.09 L581.35 89.08 L582.82 89.07 L584.31 89.06 L585.80 89.05 L587.26 89.04 L588.67 89.02 L590.00 89.00 L591.26 88.97 L592.52 88.94 L593.79 88.91 L595.05 88.88 L596.31 88.84 L597.57 88.81 L598.83 88.77 L600.08 88.73 L601.32 88.70 L602.56 88.66 L603.78 88.63 L605.00 88.60 L606.18 88.59 L607.43 88.61 L608.72 88.66 L610.02 88.71 L611.33 88.76 L612.60 88.81 L613.82 88.83 L614.96 88.83 L616.00 88.78 L616.92 88.69 L617.70 88.53 L618.30 88.30 L618.49 88.19 L618.66 88.07 L618.81 87.94 L618.94 87.80 L619.04 87.66 L619.14 87.51 L619.23 87.35 L619.30 87.19 L619.38 87.03 L619.45 86.86 L619.52 86.68 L619.60 86.50 L619.69 86.27 L619.77 86.03 L619.84 85.78 L619.89 85.52 L619.94 85.25 L619.99 84.97 L620.03 84.69 L620.07 84.40 L620.12 84.11 L620.17 83.81 L620.23 83.50 L620.30 83.20 L620.40 82.80 L620.50 82.39 L620.61 81.97 L620.73 81.54 L620.85 81.10 L620.97 80.65 L621.10 80.20 L621.23 79.74 L621.37 79.28 L621.51 78.82 L621.65 78.36 L621.80 77.90 L621.96 77.39 L622.13 76.87 L622.31 76.34 L622.48 75.80 L622.66 75.26 L622.85 74.72 L623.04 74.18 L623.24 73.65 L623.44 73.12 L623.65 72.60 L623.87 72.09 L624.10 71.60 L624.32 71.15 L624.54 70.72 L624.77 70.30 L625.01 69.88 L625.25 69.47 L625.49 69.06 L625.74 68.66 L626.00 68.26 L626.27 67.85 L626.54 67.44 L626.82 67.02 L627.10 66.60 L627.43 66.11 L627.78 65.61 L628.14 65.11 L628.51 64.61 L628.88 64.10 L629.27 63.59 L629.65 63.08 L630.04 62.58 L630.44 62.07 L630.83 61.57 L631.22 61.08 L631.60 60.60 L631.97 60.14 L632.33 59.69 L632.70 59.24 L633.07 58.79 L633.43 58.35 L633.80 57.91 L634.17 57.47 L634.55 57.04 L634.93 56.60 L635.31 56.17 L635.70 55.73 L636.10 55.30 L636.52 54.85 L636.94 54.41 L637.36 53.97 L637.80 53.54 L638.23 53.11 L638.67 52.67 L639.11 52.24 L639.56 51.80 L640.01 51.36 L640.47 50.91 L640.93 50.46 L641.40 50.00 L641.93 49.47 L642.46 48.94 L643.00 48.40 L643.54 47.85 L644.09 47.29 L644.64 46.74 L645.20 46.18 L645.77 45.62 L646.34 45.06 L646.92 44.50 L647.51 43.95 L648.10 43.40 L648.74 42.82 L649.39 42.24 L650.06 41.67 L650.73 41.10 L651.41 40.52 L652.09 39.95 L652.78 39.38 L653.47 38.81 L654.15 38.23 L654.84 37.66 L655.52 37.08 L656.20 36.50 L656.88 35.92 L657.55 35.34 L658.23 34.75 L658.90 34.16 L659.58 33.57 L660.25 32.98 L660.93 32.39 L661.60 31.80 L662.27 31.22 L662.95 30.63 L663.62 30.04 L664.30 29.46 L664.98 28.87 L665.66 28.28 L666.35 27.69 L667.03 27.10 L667.72 26.52 L668.41 25.93 L669.09 25.34 L669.77 24.76 L670.44 24.19 L671.11 23.62 L671.76 23.06 L672.40 22.51 L672.96 22.02 L673.52 21.53 L674.07 21.04 L674.61 20.54 L675.15 20.06 L675.69 19.58 L676.22 19.11 L676.74 18.65 L677.26 18.21 L677.78 17.78 L678.29 17.38 L678.80 17.00 L679.21 16.71 L679.61 16.44 L680.00 16.18 L680.40 15.93 L680.79 15.70 L681.18 15.47 L681.56 15.25 L681.95 15.03 L682.33 14.81 L682.72 14.58 L683.11 14.36 L683.50 14.12" stroke="#f00" stroke-width="2.3" stroke-dasharray="0 8.4" stroke-linecap="round"/>
<path d="M489.00 88.90 L491.59 88.90 L494.21 88.90 L496.83 88.90 L499.46 88.90 L502.09 88.90 L504.71 88.90 L507.32 88.90 L509.91 88.90 L512.48 88.90 L515.03 88.90 L517.53 88.90 L520.00 88.90 L522.24 88.90 L524.54 88.89 L526.89 88.88 L529.24 88.87 L531.57 88.85 L533.86 88.84 L536.07 88.83 L538.18 88.83 L540.16 88.83 L541.97 88.85 L543.59 88.87 L545.00 88.90 L545.56 88.91 L546.08 88.92 L546.56 88.93 L547.02 88.94 L547.45 88.94 L547.86 88.95 L548.24 88.97 L548.61 88.99 L548.97 89.02 L549.32 89.07 L549.66 89.13 L550.00 89.20 L550.25 89.26 L550.49 89.33 L550.72 89.41 L550.95 89.49 L551.17 89.58 L551.38 89.67 L551.59 89.76 L551.79 89.86 L551.98 89.97 L552.16 90.07 L552.33 90.19 L552.50 90.30 L552.63 90.39 L552.75 90.48 L552.86 90.57 L552.96 90.66 L553.07 90.76 L553.16 90.85 L553.26 90.96 L553.35 91.07 L553.44 91.18 L553.52 91.31 L553.61 91.45 L553.70 91.60 L553.85 91.88 L553.98 92.20 L554.12 92.54 L554.24 92.92 L554.36 93.31 L554.48 93.73 L554.59 94.16 L554.70 94.60 L554.80 95.05 L554.91 95.50 L555.00 95.95 L555.10 96.40 L555.21 96.94 L555.31 97.47 L555.41 98.01 L555.50 98.56 L555.59 99.12 L555.67 99.69 L555.75 100.28 L555.82 100.89 L555.89 101.53 L555.96 102.19 L556.03 102.88 L556.10 103.60 L556.21 104.82 L556.31 106.13 L556.40 107.51 L556.48 108.96 L556.57 110.47 L556.64 112.03 L556.71 113.63 L556.78 115.26 L556.84 116.93 L556.89 118.61 L556.95 120.30 L557.00 122.00 L557.06 124.12 L557.10 126.32 L557.14 128.56 L557.17 130.86 L557.19 133.20 L557.21 135.57 L557.23 137.97 L557.24 140.38 L557.25 142.79 L557.27 145.21 L557.28 147.61 L557.30 150.00 L557.32 152.47 L557.34 154.97 L557.35 157.49 L557.37 160.02 L557.38 162.57 L557.40 165.11 L557.41 167.64 L557.43 170.16 L557.44 172.67 L557.46 175.15 L557.48 177.59 L557.50 180.00 L557.52 182.20 L557.54 184.43 L557.55 186.67 L557.57 188.92 L557.59 191.15 L557.61 193.35 L557.63 195.50 L557.65 197.59 L557.68 199.60 L557.71 201.51 L557.75 203.32 L557.80 205.00 L557.83 206.00 L557.86 206.96 L557.90 207.89 L557.93 208.78 L557.97 209.64 L558.00 210.47 L558.04 211.27 L558.09 212.06 L558.13 212.82 L558.18 213.56 L558.24 214.29 L558.30 215.00 L558.35 215.53 L558.39 216.05 L558.43 216.56 L558.48 217.07 L558.52 217.56 L558.57 218.04 L558.63 218.50 L558.69 218.95 L558.75 219.37 L558.83 219.78 L558.91 220.15 L559.00 220.50 L559.06 220.71 L559.13 220.92 L559.19 221.14 L559.27 221.35 L559.34 221.56 L559.41 221.75 L559.49 221.92 L559.57 222.08 L559.65 222.21 L559.73 222.31 L559.82 222.37 L559.90 222.40 L559.98 222.39 L560.06 222.35 L560.15 222.28 L560.24 222.19 L560.33 222.08 L560.42 221.96 L560.51 221.81 L560.59 221.66 L560.68 221.50 L560.76 221.33 L560.83 221.17 L560.90 221.00 L561.00 220.70 L561.09 220.37 L561.17 220.01 L561.24 219.62 L561.30 219.21 L561.35 218.78 L561.40 218.33 L561.44 217.88 L561.48 217.41 L561.52 216.94 L561.56 216.47 L561.60 216.00 L561.65 215.41 L561.70 214.80 L561.74 214.18 L561.78 213.55 L561.81 212.90 L561.84 212.24 L561.87 211.57 L561.89 210.88 L561.92 210.18 L561.94 209.47 L561.97 208.74 L562.00 208.00 L562.04 207.03 L562.07 206.03 L562.11 204.99 L562.14 203.93 L562.17 202.85 L562.20 201.75 L562.24 200.64 L562.27 199.52 L562.30 198.39 L562.33 197.26 L562.36 196.13 L562.40 195.00 L562.44 193.80 L562.47 192.61 L562.50 191.41 L562.54 190.22 L562.57 189.02 L562.61 187.80 L562.64 186.57 L562.68 185.32 L562.73 184.04 L562.78 182.73 L562.84 181.39 L562.90 180.00 L563.00 178.14 L563.11 176.19 L563.23 174.17 L563.36 172.10 L563.50 169.98 L563.64 167.83 L563.79 165.66 L563.94 163.49 L564.08 161.33 L564.23 159.18 L564.37 157.07 L564.50 155.00 L564.62 153.03 L564.74 151.05 L564.85 149.05 L564.96 147.05 L565.07 145.06 L565.18 143.08 L565.29 141.13 L565.41 139.21 L565.52 137.33 L565.64 135.49 L565.77 133.71 L565.90 132.00 L566.01 130.71 L566.12 129.47 L566.24 128.26 L566.35 127.08 L566.48 125.93 L566.60 124.80 L566.72 123.67 L566.84 122.55 L566.96 121.43 L567.08 120.31 L567.19 119.16 L567.30 118.00 L567.41 116.80 L567.51 115.58 L567.62 114.36 L567.72 113.12 L567.82 111.89 L567.91 110.65 L568.01 109.43 L568.11 108.22 L568.21 107.03 L568.30 105.85 L568.40 104.71 L568.50 103.60 L568.58 102.68 L568.65 101.75 L568.71 100.81 L568.77 99.88 L568.83 98.97 L568.89 98.07 L568.96 97.20 L569.04 96.37 L569.13 95.57 L569.23 94.82 L569.36 94.13 L569.50 93.50 L569.59 93.16 L569.69 92.82 L569.79 92.51 L569.89 92.20 L569.99 91.91 L570.10 91.63 L570.22 91.37 L570.34 91.12 L570.47 90.89 L570.61 90.68 L570.75 90.48 L570.90 90.30 L571.02 90.18 L571.13 90.07 L571.26 89.97 L571.39 89.89 L571.52 89.81 L571.65 89.73 L571.79 89.67 L571.93 89.60 L572.07 89.55 L572.21 89.50 L572.35 89.45 L572.50 89.40 L572.65 89.36 L572.79 89.32 L572.93 89.30 L573.07 89.27 L573.21 89.26 L573.36 89.25 L573.52 89.24 L573.68 89.23 L573.86 89.23 L574.05 89.22 L574.27 89.21 L574.50 89.20 L575.28 89.17 L576.24 89.14 L577.35 89.12 L578.59 89.10 L579.93 89.09 L581.35 89.08 L582.82 89.07 L584.31 89.06 L585.80 89.05 L587.26 89.04 L588.67 89.02 L590.00 89.00 L591.26 88.97 L592.52 88.94 L593.79 88.91 L595.05 88.88 L596.31 88.84 L597.57 88.81 L598.83 88.77 L600.08 88.73 L601.32 88.70 L602.56 88.66 L603.78 88.63 L605.00 88.60 L606.17 88.59 L607.37 88.59 L608.60 88.61 L609.84 88.64 L611.07 88.67 L612.28 88.70 L613.46 88.71 L614.58 88.70 L615.64 88.66 L616.63 88.58 L617.52 88.47 L618.30 88.30 L618.67 88.20 L619.03 88.09 L619.37 87.97 L619.69 87.85 L619.99 87.72 L620.28 87.58 L620.54 87.43 L620.79 87.27 L621.02 87.10 L621.23 86.91 L621.43 86.71 L621.60 86.50 L621.74 86.28 L621.85 86.05 L621.93 85.80 L621.99 85.54 L622.04 85.27 L622.07 84.99 L622.10 84.71 L622.12 84.41 L622.15 84.11 L622.19 83.81 L622.23 83.51 L622.30 83.20 L622.40 82.80 L622.50 82.39 L622.61 81.97 L622.73 81.54 L622.85 81.10 L622.97 80.65 L623.10 80.20 L623.23 79.74 L623.37 79.28 L623.51 78.82 L623.65 78.36 L623.80 77.90 L623.96 77.39 L624.13 76.87 L624.31 76.34 L624.48 75.80 L624.66 75.26 L624.85 74.72 L625.04 74.18 L625.24 73.65 L625.44 73.12 L625.65 72.60 L625.87 72.09 L626.10 71.60 L626.32 71.15 L626.54 70.72 L626.77 70.30 L627.01 69.88 L627.25 69.47 L627.49 69.06 L627.74 68.66 L628.00 68.26 L628.27 67.85 L628.54 67.44 L628.82 67.02 L629.10 66.60 L629.43 66.11 L629.78 65.61 L630.14 65.11 L630.51 64.61 L630.88 64.10 L631.27 63.59 L631.65 63.08 L632.04 62.58 L632.44 62.07 L632.83 61.57 L633.22 61.08 L633.60 60.60 L633.97 60.14 L634.35 59.69 L634.74 59.25 L635.13 58.81 L635.52 58.37 L635.91 57.94 L636.29 57.51 L636.67 57.07 L637.04 56.64 L637.41 56.20 L637.76 55.75 L638.10 55.30 L638.40 54.87 L638.68 54.43 L638.95 54.00 L639.20 53.56 L639.44 53.11 L639.69 52.67 L639.94 52.23 L640.19 51.78 L640.46 51.34 L640.75 50.89 L641.06 50.44 L641.40 50.00 L641.85 49.45 L642.34 48.90 L642.85 48.35 L643.38 47.80 L643.94 47.24 L644.51 46.69 L645.09 46.13 L645.69 45.58 L646.29 45.03 L646.89 44.48 L647.50 43.94 L648.10 43.40 L648.74 42.84 L649.39 42.29 L650.06 41.75 L650.73 41.21 L651.41 40.67 L652.10 40.14 L652.79 39.60 L653.48 39.06 L654.17 38.51 L654.85 37.96 L655.53 37.39 L656.20 36.82 L656.88 36.21 L657.57 35.60 L658.24 34.97 L658.92 34.34 L659.59 33.70 L660.26 33.06 L660.94 32.41 L661.61 31.77 L662.28 31.12 L662.95 30.48 L663.62 29.84 L664.30 29.21 L664.98 28.57 L665.66 27.94 L666.35 27.30 L667.03 26.66 L667.72 26.02 L668.41 25.39 L669.09 24.76 L669.77 24.13 L670.44 23.51 L671.11 22.89 L671.76 22.29 L672.40 21.69 L672.96 21.16 L673.52 20.63 L674.07 20.10 L674.61 19.57 L675.15 19.05 L675.69 18.53 L676.22 18.02 L676.74 17.53 L677.26 17.05 L677.78 16.59 L678.29 16.15 L678.80 15.73 L679.21 15.41 L679.61 15.11 L680.00 14.83 L680.40 14.56 L680.79 14.29 L681.18 14.04 L681.56 13.79 L681.95 13.54 L682.33 13.29 L682.72 13.04 L683.11 12.79 L683.50 12.53" stroke="#00f" stroke-width="2" stroke-dasharray="4 6.4" stroke-linecap="round"/>
</g>
<line x1="488.00" y1="10.40" x2="683.90" y2="10.40" stroke="#262626" stroke-width="1.35"/>
<line x1="683.30" y1="9.80" x2="683.30" y2="246.20" stroke="#262626" stroke-width="1.35"/>
<line x1="488.00" y1="245.60" x2="683.90" y2="245.60" stroke="#262626" stroke-width="1.35"/>
<line x1="488.60" y1="9.80" x2="488.60" y2="246.20" stroke="#262626" stroke-width="1.35"/>
<line x1="484.60" y1="245.70" x2="488.60" y2="245.70" stroke="#262626" stroke-width="1.00"/>
<text x="482.90" y="247.91" font-size="9.20" font-weight="bold" text-anchor="end">-4</text>
<line x1="484.60" y1="206.55" x2="488.60" y2="206.55" stroke="#262626" stroke-width="1.00"/>
<text x="482.90" y="208.76" font-size="9.20" font-weight="bold" text-anchor="end">-3</text>
<line x1="484.60" y1="167.40" x2="488.60" y2="167.40" stroke="#262626" stroke-width="1.00"/>
<text x="482.90" y="169.61" font-size="9.20" font-weight="bold" text-anchor="end">-2</text>
<line x1="484.60" y1="128.25" x2="488.60" y2="128.25" stroke="#262626" stroke-width="1.00"/>
<text x="482.90" y="130.46" font-size="9.20" font-weight="bold" text-anchor="end">-1</text>
<line x1="484.60" y1="89.10" x2="488.60" y2="89.10" stroke="#262626" stroke-width="1.00"/>
<text x="482.90" y="91.31" font-size="9.20" font-weight="bold" text-anchor="end">0</text>
<line x1="484.60" y1="49.95" x2="488.60" y2="49.95" stroke="#262626" stroke-width="1.00"/>
<text x="482.90" y="52.16" font-size="9.20" font-weight="bold" text-anchor="end">1</text>
<line x1="484.60" y1="10.80" x2="488.60" y2="10.80" stroke="#262626" stroke-width="1.00"/>
<text x="482.90" y="13.01" font-size="9.20" font-weight="bold" text-anchor="end">2</text>
<line x1="486.60" y1="226.12" x2="488.60" y2="226.12" stroke="#262626" stroke-width="1.00"/>
<line x1="486.60" y1="186.97" x2="488.60" y2="186.97" stroke="#262626" stroke-width="1.00"/>
<line x1="486.60" y1="147.82" x2="488.60" y2="147.82" stroke="#262626" stroke-width="1.00"/>
<line x1="486.60" y1="108.67" x2="488.60" y2="108.67" stroke="#262626" stroke-width="1.00"/>
<line x1="486.60" y1="69.52" x2="488.60" y2="69.52" stroke="#262626" stroke-width="1.00"/>
<line x1="486.60" y1="30.38" x2="488.60" y2="30.38" stroke="#262626" stroke-width="1.00"/>
<line x1="488.50" y1="245.60" x2="488.50" y2="249.60" stroke="#262626" stroke-width="1.00"/>
<text x="488.50" y="259.20" font-size="9.20" font-weight="bold" text-anchor="middle">12</text>
<line x1="531.85" y1="245.60" x2="531.85" y2="249.60" stroke="#262626" stroke-width="1.00"/>
<text x="531.85" y="259.20" font-size="9.20" font-weight="bold" text-anchor="middle">13</text>
<line x1="575.20" y1="245.60" x2="575.20" y2="249.60" stroke="#262626" stroke-width="1.00"/>
<text x="575.20" y="259.20" font-size="9.20" font-weight="bold" text-anchor="middle">14</text>
<line x1="618.55" y1="245.60" x2="618.55" y2="249.60" stroke="#262626" stroke-width="1.00"/>
<text x="618.55" y="259.20" font-size="9.20" font-weight="bold" text-anchor="middle">15</text>
<line x1="661.90" y1="245.60" x2="661.90" y2="249.60" stroke="#262626" stroke-width="1.00"/>
<text x="661.90" y="259.20" font-size="9.20" font-weight="bold" text-anchor="middle">16</text>
<line x1="510.18" y1="245.60" x2="510.18" y2="247.60" stroke="#262626" stroke-width="1.00"/>
<line x1="553.52" y1="245.60" x2="553.52" y2="247.60" stroke="#262626" stroke-width="1.00"/>
<line x1="596.88" y1="245.60" x2="596.88" y2="247.60" stroke="#262626" stroke-width="1.00"/>
<line x1="640.23" y1="245.60" x2="640.23" y2="247.60" stroke="#262626" stroke-width="1.00"/>
<line x1="497.90" y1="19.50" x2="523.70" y2="19.50" stroke="#000" stroke-width="2"/>
<line x1="498.90" y1="35.35" x2="516.90" y2="35.35" stroke="#f00" stroke-width="2.4" stroke-dasharray="0 8.4" stroke-linecap="round"/>
<line x1="498.40" y1="51.20" x2="523.70" y2="51.20" stroke="#00f" stroke-width="2" stroke-dasharray="4.5 6" stroke-linecap="round"/>
<text x="526.40" y="22.90" font-size="9.85">a<tspan font-size="6" dy="4">x</tspan><tspan dy="-4"> = 6.0 mm</tspan></text>
<text x="526.40" y="38.75" font-size="9.85">a<tspan font-size="6" dy="4">x</tspan><tspan dy="-4"> = 6.5 mm</tspan></text>
<text x="526.40" y="54.60" font-size="9.85">a<tspan font-size="6" dy="4">x</tspan><tspan dy="-4"> = 7.0 mm</tspan></text>
<text x="587.00" y="275.80" font-size="9.20" font-weight="bold" text-anchor="middle">Frequency (GHz)</text>
<text x="469.60" y="130.90" font-size="10.40" font-weight="bold" text-anchor="middle" transform="rotate(-90 469.60 130.90)">Real part of n</text>
<text x="681.40" y="240.20" font-size="9.40" font-weight="bold" text-anchor="end">(c)</text>
</svg>
</body></html>
